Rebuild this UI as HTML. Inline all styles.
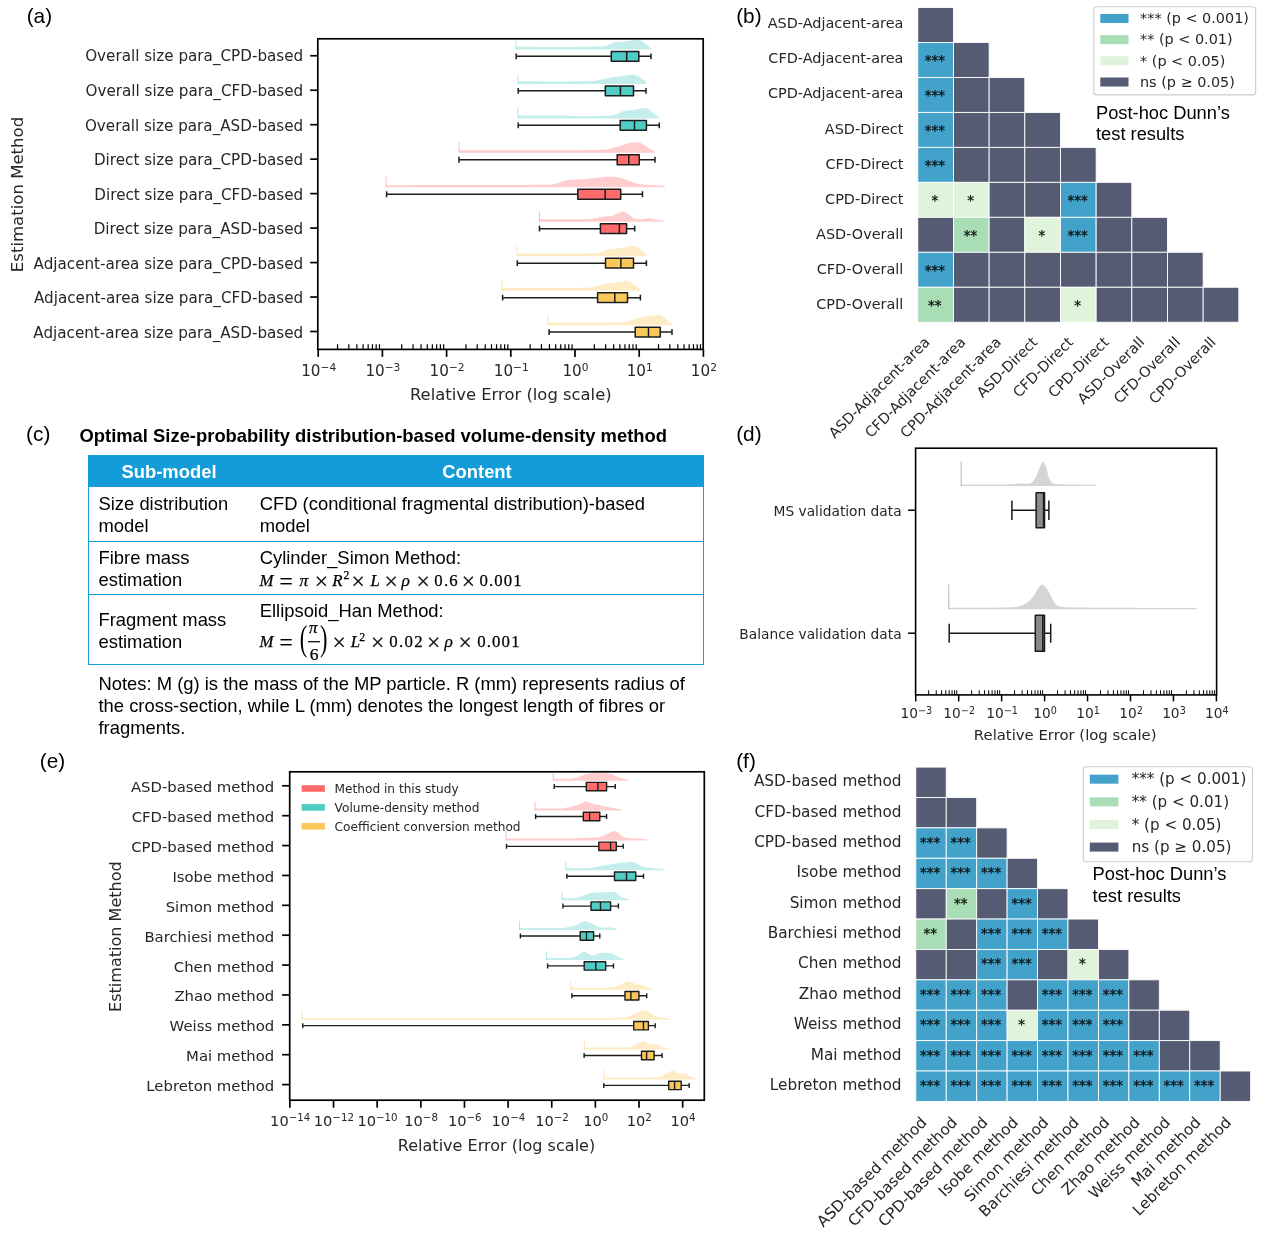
<!DOCTYPE html>
<html lang="en"><head><meta charset="utf-8"><title>Figure</title>
<style>
html,body{margin:0;padding:0;background:#fff;}
#page{position:relative;width:1268px;height:1234px;overflow:hidden;background:#fff;}
#page svg{position:absolute;left:0;top:0;}
.c{position:absolute;font-family:'Liberation Sans','DejaVu Sans',sans-serif;color:#000;font-size:18.4px;line-height:21.9px;white-space:nowrap;}
.m{font-family:'Liberation Serif','DejaVu Serif',serif;font-style:italic;font-size:18.6px;}
.n{font-family:'Liberation Serif','DejaVu Serif',serif;font-style:normal;font-size:18.6px;}
sup.s{font-size:13px;line-height:0;vertical-align:6.5px;font-style:normal;font-family:'Liberation Serif','DejaVu Serif',serif;}
</style></head><body>
<div id="page">
<svg width="1268" height="1234" viewBox="0 0 1268 1234">
<text x="26.7" y="22.8" font-family="'Liberation Sans','DejaVu Sans',sans-serif" font-size="20.8" text-anchor="start" fill="#000">(a)</text>
<text x="736.2" y="22.6" font-family="'Liberation Sans','DejaVu Sans',sans-serif" font-size="20.8" text-anchor="start" fill="#000">(b)</text>
<text x="26.1" y="440.7" font-family="'Liberation Sans','DejaVu Sans',sans-serif" font-size="20.8" text-anchor="start" fill="#000">(c)</text>
<text x="736.2" y="440.6" font-family="'Liberation Sans','DejaVu Sans',sans-serif" font-size="20.8" text-anchor="start" fill="#000">(d)</text>
<text x="39.8" y="768.4" font-family="'Liberation Sans','DejaVu Sans',sans-serif" font-size="20.8" text-anchor="start" fill="#000">(e)</text>
<text x="736.2" y="768.2" font-family="'Liberation Sans','DejaVu Sans',sans-serif" font-size="20.8" text-anchor="start" fill="#000">(f)</text>
<path d="M516,49.45 L516,46.65 L517,46.67 L518,46.68 L519,46.7 L520,46.71 L521,46.73 L522,46.74 L523,46.75 L524,46.77 L525,46.78 L526,46.79 L527,46.8 L528,46.81 L529,46.82 L530,46.83 L531,46.84 L532,46.85 L533,46.86 L534,46.87 L535,46.87 L536,46.88 L537,46.89 L538,46.89 L539,46.9 L540,46.9 L541,46.91 L542,46.91 L543,46.92 L544,46.92 L545,46.93 L546,46.93 L547,46.93 L548,46.94 L549,46.94 L550,46.94 L551,46.94 L552,46.94 L553,46.95 L554,46.95 L555,46.95 L556,46.95 L557,46.95 L558,46.95 L559,46.95 L560,46.95 L561,46.95 L562,46.95 L563,46.95 L564,46.95 L565,46.94 L566,46.94 L567,46.94 L568,46.93 L569,46.93 L570,46.92 L571,46.92 L572,46.91 L573,46.9 L574,46.89 L575,46.89 L576,46.88 L577,46.87 L578,46.86 L579,46.84 L580,46.83 L581,46.82 L582,46.81 L583,46.79 L584,46.78 L585,46.76 L586,46.75 L587,46.73 L588,46.71 L589,46.7 L590,46.68 L591,46.66 L592,46.64 L593,46.62 L594,46.6 L595,46.57 L596,46.55 L597,46.53 L598,46.5 L599,46.48 L600,46.45 L601,46.41 L602,46.36 L603,46.28 L604,46.19 L605,46.08 L606,45.95 L607,45.71 L608,45.31 L609,44.8 L610,44.23 L611,43.66 L612,43.14 L613,42.72 L614,42.45 L615,42.29 L616,42.16 L617,42.04 L618,41.93 L619,41.84 L620,41.76 L621,41.68 L622,41.6 L623,41.52 L624,41.44 L625,41.35 L626,41.25 L627,41.13 L628,40.99 L629,40.84 L630,40.68 L631,40.53 L632,40.38 L633,40.24 L634,40.12 L635,40.03 L636,39.97 L637,39.95 L638,40.04 L639,40.28 L640,40.62 L641,41.03 L642,41.45 L643,41.96 L644,42.61 L645,43.36 L646,44.15 L647,44.95 L648,45.76 L649,46.61 L650,47.51 L651,48.45 L651,49.45 Z" fill="#4ECDC4" fill-opacity="0.34" stroke="none"/>
<line x1="516" y1="49.45" x2="516" y2="39.95" stroke="#4ECDC4" stroke-opacity="0.45" stroke-width="1.0"/>
<path d="M516.2,56.35H611.3M638.8,56.35H651M516.2,53.45V59.25M651,53.45V59.25" stroke="#1c1c1c" stroke-width="1.5" fill="none"/>
<rect x="611.3" y="51.45" width="27.5" height="9.8" fill="#4ECDC4" stroke="#1c1c1c" stroke-width="1.5" stroke-linejoin="round"/>
<line x1="626.7" y1="51.45" x2="626.7" y2="61.25" stroke="#1c1c1c" stroke-width="1.5"/>
<line x1="310.2" y1="55.75" x2="317.8" y2="55.75" stroke="#000" stroke-width="1.7"/>
<text x="303.2" y="61.45" font-family="'DejaVu Sans','Liberation Sans',sans-serif" font-size="15.18" text-anchor="end" fill="#262626">Overall size para_CPD-based</text>
<path d="M518,83.92 L518,81.12 L519,81.14 L520,81.16 L521,81.17 L522,81.19 L523,81.21 L524,81.22 L525,81.24 L526,81.25 L527,81.26 L528,81.27 L529,81.29 L530,81.3 L531,81.31 L532,81.32 L533,81.33 L534,81.34 L535,81.34 L536,81.35 L537,81.36 L538,81.36 L539,81.37 L540,81.38 L541,81.38 L542,81.39 L543,81.39 L544,81.4 L545,81.4 L546,81.4 L547,81.4 L548,81.41 L549,81.41 L550,81.41 L551,81.41 L552,81.42 L553,81.42 L554,81.42 L555,81.42 L556,81.42 L557,81.42 L558,81.42 L559,81.42 L560,81.42 L561,81.42 L562,81.42 L563,81.42 L564,81.41 L565,81.41 L566,81.41 L567,81.4 L568,81.4 L569,81.39 L570,81.39 L571,81.38 L572,81.37 L573,81.36 L574,81.35 L575,81.34 L576,81.33 L577,81.31 L578,81.3 L579,81.28 L580,81.27 L581,81.25 L582,81.23 L583,81.21 L584,81.19 L585,81.17 L586,81.15 L587,81.12 L588,81.1 L589,81.07 L590,81.04 L591,81.01 L592,80.98 L593,80.95 L594,80.92 L595,80.85 L596,80.72 L597,80.54 L598,80.34 L599,80.13 L600,79.92 L601,79.7 L602,79.44 L603,79.17 L604,78.89 L605,78.64 L606,78.42 L607,78.23 L608,78.05 L609,77.88 L610,77.72 L611,77.56 L612,77.41 L613,77.26 L614,77.12 L615,76.98 L616,76.84 L617,76.7 L618,76.56 L619,76.42 L620,76.28 L621,76.13 L622,75.98 L623,75.84 L624,75.7 L625,75.56 L626,75.42 L627,75.29 L628,75.16 L629,75.04 L630,74.92 L631,74.79 L632,74.67 L633,74.62 L634,74.69 L635,74.89 L636,75.18 L637,75.53 L638,75.92 L639,76.48 L640,77.28 L641,78.14 L642,78.92 L643,79.59 L644,80.23 L645,80.84 L646,81.42 L646,83.92 Z" fill="#4ECDC4" fill-opacity="0.34" stroke="none"/>
<line x1="518" y1="83.92" x2="518" y2="74.62" stroke="#4ECDC4" stroke-opacity="0.45" stroke-width="1.0"/>
<path d="M518.2,90.82H605.3M633.5,90.82H646M518.2,87.92V93.72M646,87.92V93.72" stroke="#1c1c1c" stroke-width="1.5" fill="none"/>
<rect x="605.3" y="85.92" width="28.2" height="9.8" fill="#4ECDC4" stroke="#1c1c1c" stroke-width="1.5" stroke-linejoin="round"/>
<line x1="620.4" y1="85.92" x2="620.4" y2="95.72" stroke="#1c1c1c" stroke-width="1.5"/>
<line x1="310.2" y1="90.22" x2="317.8" y2="90.22" stroke="#000" stroke-width="1.7"/>
<text x="303.2" y="95.98" font-family="'DejaVu Sans','Liberation Sans',sans-serif" font-size="15.18" text-anchor="end" fill="#262626">Overall size para_CFD-based</text>
<path d="M518,118.39 L518,115.59 L519,115.58 L520,115.56 L521,115.55 L522,115.54 L523,115.53 L524,115.52 L525,115.51 L526,115.5 L527,115.49 L528,115.48 L529,115.47 L530,115.46 L531,115.46 L532,115.45 L533,115.44 L534,115.44 L535,115.43 L536,115.43 L537,115.42 L538,115.42 L539,115.41 L540,115.41 L541,115.41 L542,115.41 L543,115.4 L544,115.4 L545,115.4 L546,115.4 L547,115.4 L548,115.39 L549,115.39 L550,115.39 L551,115.39 L552,115.39 L553,115.39 L554,115.39 L555,115.39 L556,115.39 L557,115.39 L558,115.39 L559,115.39 L560,115.39 L561,115.4 L562,115.41 L563,115.44 L564,115.47 L565,115.51 L566,115.56 L567,115.62 L568,115.67 L569,115.73 L570,115.79 L571,115.85 L572,115.91 L573,115.96 L574,116.02 L575,116.06 L576,116.11 L577,116.14 L578,116.17 L579,116.18 L580,116.19 L581,116.19 L582,116.19 L583,116.18 L584,116.18 L585,116.18 L586,116.17 L587,116.16 L588,116.15 L589,116.14 L590,116.13 L591,116.11 L592,116.1 L593,116.08 L594,116.06 L595,116.04 L596,116.02 L597,116 L598,115.97 L599,115.94 L600,115.91 L601,115.88 L602,115.85 L603,115.81 L604,115.78 L605,115.74 L606,115.69 L607,115.65 L608,115.6 L609,115.55 L610,115.5 L611,115.45 L612,115.39 L613,115.25 L614,114.98 L615,114.62 L616,114.21 L617,113.79 L618,113.39 L619,112.97 L620,112.49 L621,112 L622,111.54 L623,111.15 L624,110.89 L625,110.72 L626,110.58 L627,110.45 L628,110.34 L629,110.25 L630,110.16 L631,110.08 L632,110 L633,109.91 L634,109.82 L635,109.71 L636,109.59 L637,109.43 L638,109.24 L639,109.03 L640,108.8 L641,108.57 L642,108.36 L643,108.17 L644,108.02 L645,107.93 L646,107.89 L647,108.15 L648,108.79 L649,109.61 L650,110.39 L651,111.13 L652,111.93 L653,112.76 L654,113.59 L655,114.39 L656,115.16 L657,115.91 L658,116.66 L659,117.39 L659,118.39 Z" fill="#4ECDC4" fill-opacity="0.34" stroke="none"/>
<line x1="518" y1="118.39" x2="518" y2="107.89" stroke="#4ECDC4" stroke-opacity="0.45" stroke-width="1.0"/>
<path d="M518.2,125.29H620.2M646.4,125.29H659.3M518.2,122.39V128.19M659.3,122.39V128.19" stroke="#1c1c1c" stroke-width="1.5" fill="none"/>
<rect x="620.2" y="120.39" width="26.2" height="9.8" fill="#4ECDC4" stroke="#1c1c1c" stroke-width="1.5" stroke-linejoin="round"/>
<line x1="634.5" y1="120.39" x2="634.5" y2="130.19" stroke="#1c1c1c" stroke-width="1.5"/>
<line x1="310.2" y1="124.69" x2="317.8" y2="124.69" stroke="#000" stroke-width="1.7"/>
<text x="303.2" y="130.51" font-family="'DejaVu Sans','Liberation Sans',sans-serif" font-size="15.18" text-anchor="end" fill="#262626">Overall size para_ASD-based</text>
<path d="M459,152.86 L459,150.36 L460,150.36 L461,150.36 L462,150.36 L463,150.36 L464,150.36 L465,150.36 L466,150.36 L467,150.36 L468,150.36 L469,150.36 L470,150.36 L471,150.36 L472,150.36 L473,150.36 L474,150.36 L475,150.36 L476,150.36 L477,150.36 L478,150.36 L479,150.36 L480,150.36 L481,150.36 L482,150.36 L483,150.36 L484,150.36 L485,150.36 L486,150.36 L487,150.36 L488,150.36 L489,150.36 L490,150.36 L491,150.36 L492,150.36 L493,150.36 L494,150.36 L495,150.36 L496,150.36 L497,150.36 L498,150.36 L499,150.36 L500,150.36 L501,150.36 L502,150.36 L503,150.36 L504,150.36 L505,150.36 L506,150.36 L507,150.36 L508,150.36 L509,150.36 L510,150.36 L511,150.36 L512,150.36 L513,150.36 L514,150.36 L515,150.36 L516,150.36 L517,150.36 L518,150.36 L519,150.36 L520,150.36 L521,150.36 L522,150.36 L523,150.36 L524,150.36 L525,150.36 L526,150.36 L527,150.36 L528,150.36 L529,150.36 L530,150.36 L531,150.36 L532,150.36 L533,150.36 L534,150.36 L535,150.36 L536,150.36 L537,150.36 L538,150.36 L539,150.36 L540,150.36 L541,150.36 L542,150.36 L543,150.36 L544,150.36 L545,150.36 L546,150.36 L547,150.36 L548,150.36 L549,150.36 L550,150.36 L551,150.36 L552,150.36 L553,150.36 L554,150.36 L555,150.36 L556,150.36 L557,150.36 L558,150.36 L559,150.36 L560,150.36 L561,150.36 L562,150.36 L563,150.36 L564,150.36 L565,150.35 L566,150.35 L567,150.35 L568,150.34 L569,150.34 L570,150.33 L571,150.32 L572,150.32 L573,150.31 L574,150.3 L575,150.29 L576,150.28 L577,150.27 L578,150.26 L579,150.25 L580,150.24 L581,150.22 L582,150.21 L583,150.2 L584,150.18 L585,150.17 L586,150.15 L587,150.13 L588,150.12 L589,150.1 L590,150.08 L591,150.06 L592,150.04 L593,150.02 L594,150 L595,149.98 L596,149.96 L597,149.93 L598,149.91 L599,149.89 L600,149.86 L601,149.83 L602,149.78 L603,149.72 L604,149.65 L605,149.56 L606,149.47 L607,149.36 L608,149.22 L609,149.02 L610,148.79 L611,148.52 L612,148.23 L613,147.93 L614,147.64 L615,147.36 L616,147.09 L617,146.81 L618,146.53 L619,146.24 L620,145.95 L621,145.66 L622,145.36 L623,145.04 L624,144.7 L625,144.34 L626,143.99 L627,143.65 L628,143.34 L629,143.07 L630,142.86 L631,142.68 L632,142.51 L633,142.35 L634,142.24 L635,142.17 L636,142.17 L637,142.26 L638,142.42 L639,142.63 L640,142.86 L641,143.2 L642,143.72 L643,144.35 L644,145.03 L645,145.72 L646,146.36 L647,146.96 L648,147.58 L649,148.2 L650,148.79 L651,149.36 L652,149.89 L653,150.4 L654,150.89 L655,151.36 L655,152.86 Z" fill="#FF6B6B" fill-opacity="0.34" stroke="none"/>
<line x1="459" y1="152.86" x2="459" y2="142.16" stroke="#FF6B6B" stroke-opacity="0.45" stroke-width="1.0"/>
<path d="M459,159.76H617.2M639.2,159.76H655M459,156.86V162.66M655,156.86V162.66" stroke="#1c1c1c" stroke-width="1.5" fill="none"/>
<rect x="617.2" y="154.86" width="22" height="9.8" fill="#FF6B6B" stroke="#1c1c1c" stroke-width="1.5" stroke-linejoin="round"/>
<line x1="628.8" y1="154.86" x2="628.8" y2="164.66" stroke="#1c1c1c" stroke-width="1.5"/>
<line x1="310.2" y1="159.16" x2="317.8" y2="159.16" stroke="#000" stroke-width="1.7"/>
<text x="303.2" y="165.04" font-family="'DejaVu Sans','Liberation Sans',sans-serif" font-size="15.18" text-anchor="end" fill="#262626">Direct size para_CPD-based</text>
<path d="M386,187.33 L386,185.13 L387,185.13 L388,185.13 L389,185.13 L390,185.13 L391,185.13 L392,185.13 L393,185.13 L394,185.13 L395,185.13 L396,185.13 L397,185.13 L398,185.13 L399,185.13 L400,185.13 L401,185.13 L402,185.13 L403,185.13 L404,185.13 L405,185.13 L406,185.13 L407,185.13 L408,185.13 L409,185.13 L410,185.13 L411,185.13 L412,185.13 L413,185.12 L414,185.12 L415,185.12 L416,185.12 L417,185.12 L418,185.12 L419,185.12 L420,185.12 L421,185.12 L422,185.12 L423,185.12 L424,185.12 L425,185.12 L426,185.12 L427,185.12 L428,185.12 L429,185.12 L430,185.12 L431,185.11 L432,185.11 L433,185.11 L434,185.11 L435,185.11 L436,185.11 L437,185.11 L438,185.11 L439,185.11 L440,185.11 L441,185.11 L442,185.1 L443,185.1 L444,185.1 L445,185.1 L446,185.1 L447,185.1 L448,185.1 L449,185.1 L450,185.09 L451,185.09 L452,185.09 L453,185.09 L454,185.09 L455,185.09 L456,185.09 L457,185.09 L458,185.08 L459,185.08 L460,185.08 L461,185.08 L462,185.08 L463,185.08 L464,185.07 L465,185.07 L466,185.07 L467,185.07 L468,185.07 L469,185.07 L470,185.06 L471,185.06 L472,185.06 L473,185.06 L474,185.06 L475,185.05 L476,185.05 L477,185.05 L478,185.05 L479,185.04 L480,185.04 L481,185.04 L482,185.04 L483,185.04 L484,185.03 L485,185.03 L486,185.03 L487,185.03 L488,185.02 L489,185.02 L490,185.02 L491,185.02 L492,185.01 L493,185.01 L494,185.01 L495,185 L496,185 L497,185 L498,185 L499,184.99 L500,184.99 L501,184.99 L502,184.98 L503,184.98 L504,184.98 L505,184.97 L506,184.97 L507,184.97 L508,184.96 L509,184.96 L510,184.96 L511,184.95 L512,184.95 L513,184.95 L514,184.94 L515,184.94 L516,184.93 L517,184.93 L518,184.93 L519,184.92 L520,184.92 L521,184.92 L522,184.91 L523,184.91 L524,184.9 L525,184.9 L526,184.89 L527,184.89 L528,184.89 L529,184.88 L530,184.88 L531,184.87 L532,184.87 L533,184.86 L534,184.86 L535,184.85 L536,184.85 L537,184.84 L538,184.84 L539,184.83 L540,184.83 L541,184.82 L542,184.81 L543,184.79 L544,184.77 L545,184.74 L546,184.71 L547,184.67 L548,184.63 L549,184.58 L550,184.53 L551,184.47 L552,184.4 L553,184.33 L554,184.2 L555,183.98 L556,183.68 L557,183.34 L558,182.99 L559,182.64 L560,182.33 L561,182.02 L562,181.69 L563,181.34 L564,181 L565,180.68 L566,180.4 L567,180.18 L568,180.03 L569,179.93 L570,179.85 L571,179.78 L572,179.71 L573,179.66 L574,179.61 L575,179.56 L576,179.52 L577,179.48 L578,179.44 L579,179.4 L580,179.36 L581,179.31 L582,179.26 L583,179.2 L584,179.13 L585,179.05 L586,178.97 L587,178.88 L588,178.79 L589,178.68 L590,178.58 L591,178.47 L592,178.36 L593,178.25 L594,178.14 L595,178.04 L596,177.93 L597,177.82 L598,177.72 L599,177.62 L600,177.53 L601,177.44 L602,177.33 L603,177.22 L604,177.11 L605,177.01 L606,176.91 L607,176.82 L608,176.74 L609,176.68 L610,176.64 L611,176.63 L612,176.65 L613,176.72 L614,176.82 L615,176.94 L616,177.1 L617,177.27 L618,177.45 L619,177.64 L620,177.83 L621,178.05 L622,178.31 L623,178.61 L624,178.94 L625,179.29 L626,179.64 L627,179.99 L628,180.33 L629,180.68 L630,181.07 L631,181.47 L632,181.89 L633,182.3 L634,182.69 L635,183.05 L636,183.37 L637,183.64 L638,183.83 L639,183.98 L640,184.11 L641,184.23 L642,184.33 L643,184.43 L644,184.52 L645,184.6 L646,184.68 L647,184.75 L648,184.83 L649,184.91 L650,184.98 L651,185.05 L652,185.12 L653,185.19 L654,185.26 L655,185.33 L656,185.39 L657,185.45 L658,185.51 L659,185.57 L660,185.62 L661,185.67 L662,185.71 L663,185.76 L664,185.8 L665,185.83 L665,187.33 Z" fill="#FF6B6B" fill-opacity="0.34" stroke="none"/>
<line x1="386" y1="187.33" x2="386" y2="176.63" stroke="#FF6B6B" stroke-opacity="0.45" stroke-width="1.0"/>
<path d="M386.6,194.23H577.8M620.7,194.23H642.5M386.6,191.33V197.13M642.5,191.33V197.13" stroke="#1c1c1c" stroke-width="1.5" fill="none"/>
<rect x="577.8" y="189.33" width="42.9" height="9.8" fill="#FF6B6B" stroke="#1c1c1c" stroke-width="1.5" stroke-linejoin="round"/>
<line x1="605.2" y1="189.33" x2="605.2" y2="199.13" stroke="#1c1c1c" stroke-width="1.5"/>
<line x1="310.2" y1="193.63" x2="317.8" y2="193.63" stroke="#000" stroke-width="1.7"/>
<text x="303.2" y="199.57" font-family="'DejaVu Sans','Liberation Sans',sans-serif" font-size="15.18" text-anchor="end" fill="#262626">Direct size para_CFD-based</text>
<path d="M539.5,221.8 L539.5,219.3 L540.5,219.3 L541.5,219.3 L542.5,219.3 L543.5,219.3 L544.5,219.3 L545.5,219.3 L546.5,219.3 L547.5,219.3 L548.5,219.3 L549.5,219.3 L550.5,219.3 L551.5,219.3 L552.5,219.3 L553.5,219.3 L554.5,219.3 L555.5,219.3 L556.5,219.3 L557.5,219.3 L558.5,219.3 L559.5,219.3 L560.5,219.3 L561.5,219.3 L562.5,219.3 L563.5,219.3 L564.5,219.3 L565.5,219.3 L566.5,219.3 L567.5,219.3 L568.5,219.3 L569.5,219.3 L570.5,219.3 L571.5,219.3 L572.5,219.3 L573.5,219.3 L574.5,219.3 L575.5,219.3 L576.5,219.3 L577.5,219.3 L578.5,219.3 L579.5,219.3 L580.5,219.3 L581.5,219.3 L582.5,219.3 L583.5,219.3 L584.5,219.3 L585.5,219.3 L586.5,219.27 L587.5,219.21 L588.5,219.13 L589.5,219.03 L590.5,218.91 L591.5,218.79 L592.5,218.65 L593.5,218.51 L594.5,218.37 L595.5,218.22 L596.5,218.03 L597.5,217.8 L598.5,217.55 L599.5,217.3 L600.5,217.05 L601.5,216.84 L602.5,216.66 L603.5,216.55 L604.5,216.46 L605.5,216.4 L606.5,216.34 L607.5,216.29 L608.5,216.23 L609.5,216.16 L610.5,216.06 L611.5,215.92 L612.5,215.65 L613.5,215.29 L614.5,214.87 L615.5,214.42 L616.5,214 L617.5,213.6 L618.5,213.12 L619.5,212.62 L620.5,212.14 L621.5,211.75 L622.5,211.53 L623.5,211.54 L624.5,211.82 L625.5,212.3 L626.5,212.9 L627.5,213.51 L628.5,214.11 L629.5,214.87 L630.5,215.75 L631.5,216.67 L632.5,217.53 L633.5,218.23 L634.5,218.69 L635.5,218.86 L636.5,218.98 L637.5,219.08 L638.5,219.16 L639.5,219.23 L640.5,219.27 L641.5,219.3 L642.5,219.29 L643.5,219.18 L644.5,219.01 L645.5,218.8 L646.5,218.59 L647.5,218.42 L648.5,218.31 L649.5,218.31 L650.5,218.4 L651.5,218.56 L652.5,218.76 L653.5,218.99 L654.5,219.21 L655.5,219.41 L656.5,219.58 L657.5,219.73 L658.5,219.88 L659.5,220.03 L660.5,220.18 L661.5,220.32 L662.5,220.45 L663.5,220.59 L663.6,220.6 L663.6,221.8 Z" fill="#FF6B6B" fill-opacity="0.34" stroke="none"/>
<line x1="539.5" y1="221.8" x2="539.5" y2="211.5" stroke="#FF6B6B" stroke-opacity="0.45" stroke-width="1.0"/>
<path d="M539.5,228.7H600.4M626.6,228.7H634.7M539.5,225.8V231.6M634.7,225.8V231.6" stroke="#1c1c1c" stroke-width="1.5" fill="none"/>
<rect x="600.4" y="223.8" width="26.2" height="9.8" fill="#FF6B6B" stroke="#1c1c1c" stroke-width="1.5" stroke-linejoin="round"/>
<line x1="619.4" y1="223.8" x2="619.4" y2="233.6" stroke="#1c1c1c" stroke-width="1.5"/>
<line x1="310.2" y1="228.1" x2="317.8" y2="228.1" stroke="#000" stroke-width="1.7"/>
<text x="303.2" y="234.1" font-family="'DejaVu Sans','Liberation Sans',sans-serif" font-size="15.18" text-anchor="end" fill="#262626">Direct size para_ASD-based</text>
<path d="M517,256.27 L517,253.47 L518,253.47 L519,253.47 L520,253.47 L521,253.47 L522,253.47 L523,253.47 L524,253.47 L525,253.47 L526,253.47 L527,253.47 L528,253.47 L529,253.47 L530,253.47 L531,253.47 L532,253.47 L533,253.47 L534,253.47 L535,253.47 L536,253.47 L537,253.47 L538,253.47 L539,253.47 L540,253.47 L541,253.47 L542,253.47 L543,253.47 L544,253.47 L545,253.47 L546,253.47 L547,253.47 L548,253.47 L549,253.47 L550,253.47 L551,253.47 L552,253.47 L553,253.47 L554,253.47 L555,253.47 L556,253.47 L557,253.47 L558,253.47 L559,253.47 L560,253.47 L561,253.47 L562,253.47 L563,253.47 L564,253.47 L565,253.47 L566,253.47 L567,253.47 L568,253.46 L569,253.46 L570,253.46 L571,253.46 L572,253.46 L573,253.45 L574,253.45 L575,253.45 L576,253.44 L577,253.44 L578,253.43 L579,253.43 L580,253.42 L581,253.42 L582,253.41 L583,253.4 L584,253.4 L585,253.39 L586,253.38 L587,253.37 L588,253.36 L589,253.35 L590,253.34 L591,253.33 L592,253.32 L593,253.31 L594,253.3 L595,253.28 L596,253.27 L597,253.19 L598,253.01 L599,252.76 L600,252.44 L601,252.11 L602,251.77 L603,251.35 L604,250.82 L605,250.31 L606,249.97 L607,249.76 L608,249.58 L609,249.42 L610,249.28 L611,249.16 L612,249.04 L613,248.94 L614,248.85 L615,248.75 L616,248.66 L617,248.56 L618,248.46 L619,248.34 L620,248.21 L621,248.07 L622,247.91 L623,247.74 L624,247.56 L625,247.38 L626,247.18 L627,246.98 L628,246.77 L629,246.51 L630,246.2 L631,245.89 L632,245.66 L633,245.57 L634,245.68 L635,245.96 L636,246.34 L637,246.77 L638,247.33 L639,248.08 L640,248.92 L641,249.77 L642,250.6 L643,251.47 L644,252.37 L645,253.3 L646,254.27 L646,256.27 Z" fill="#FAC858" fill-opacity="0.34" stroke="none"/>
<line x1="517" y1="256.27" x2="517" y2="245.57" stroke="#FAC858" stroke-opacity="0.45" stroke-width="1.0"/>
<path d="M517.3,263.17H605.5M633.5,263.17H646.4M517.3,260.27V266.07M646.4,260.27V266.07" stroke="#1c1c1c" stroke-width="1.5" fill="none"/>
<rect x="605.5" y="258.27" width="28" height="9.8" fill="#FAC858" stroke="#1c1c1c" stroke-width="1.5" stroke-linejoin="round"/>
<line x1="620.9" y1="258.27" x2="620.9" y2="268.07" stroke="#1c1c1c" stroke-width="1.5"/>
<line x1="310.2" y1="262.57" x2="317.8" y2="262.57" stroke="#000" stroke-width="1.7"/>
<text x="303.2" y="268.63" font-family="'DejaVu Sans','Liberation Sans',sans-serif" font-size="15.18" text-anchor="end" fill="#262626">Adjacent-area size para_CPD-based</text>
<path d="M502,290.74 L502,287.94 L503,287.94 L504,287.94 L505,287.94 L506,287.94 L507,287.94 L508,287.94 L509,287.94 L510,287.94 L511,287.94 L512,287.94 L513,287.94 L514,287.94 L515,287.94 L516,287.94 L517,287.94 L518,287.94 L519,287.94 L520,287.94 L521,287.94 L522,287.94 L523,287.94 L524,287.94 L525,287.94 L526,287.94 L527,287.94 L528,287.94 L529,287.94 L530,287.94 L531,287.94 L532,287.94 L533,287.94 L534,287.94 L535,287.94 L536,287.94 L537,287.94 L538,287.94 L539,287.94 L540,287.94 L541,287.94 L542,287.94 L543,287.94 L544,287.94 L545,287.94 L546,287.94 L547,287.94 L548,287.94 L549,287.94 L550,287.94 L551,287.94 L552,287.94 L553,287.94 L554,287.94 L555,287.94 L556,287.94 L557,287.94 L558,287.94 L559,287.94 L560,287.94 L561,287.94 L562,287.94 L563,287.94 L564,287.94 L565,287.94 L566,287.93 L567,287.93 L568,287.93 L569,287.92 L570,287.92 L571,287.92 L572,287.91 L573,287.9 L574,287.9 L575,287.89 L576,287.88 L577,287.88 L578,287.87 L579,287.86 L580,287.85 L581,287.84 L582,287.83 L583,287.81 L584,287.8 L585,287.79 L586,287.77 L587,287.76 L588,287.74 L589,287.69 L590,287.57 L591,287.4 L592,287.19 L593,286.95 L594,286.71 L595,286.47 L596,286.24 L597,286.01 L598,285.76 L599,285.5 L600,285.24 L601,284.99 L602,284.75 L603,284.54 L604,284.33 L605,284.13 L606,283.93 L607,283.73 L608,283.54 L609,283.36 L610,283.18 L611,283.01 L612,282.84 L613,282.68 L614,282.53 L615,282.38 L616,282.24 L617,282.11 L618,282 L619,281.9 L620,281.79 L621,281.69 L622,281.57 L623,281.44 L624,281.25 L625,281.02 L626,280.82 L627,280.74 L628,280.88 L629,281.24 L630,281.72 L631,282.24 L632,282.85 L633,283.63 L634,284.46 L635,285.24 L636,285.96 L637,286.67 L638,287.37 L639,288.06 L640,288.74 L640,290.74 Z" fill="#FAC858" fill-opacity="0.34" stroke="none"/>
<line x1="502" y1="290.74" x2="502" y2="280.74" stroke="#FAC858" stroke-opacity="0.45" stroke-width="1.0"/>
<path d="M502.6,297.64H597.6M627.5,297.64H640.4M502.6,294.74V300.54M640.4,294.74V300.54" stroke="#1c1c1c" stroke-width="1.5" fill="none"/>
<rect x="597.6" y="292.74" width="29.9" height="9.8" fill="#FAC858" stroke="#1c1c1c" stroke-width="1.5" stroke-linejoin="round"/>
<line x1="614.8" y1="292.74" x2="614.8" y2="302.54" stroke="#1c1c1c" stroke-width="1.5"/>
<line x1="310.2" y1="297.04" x2="317.8" y2="297.04" stroke="#000" stroke-width="1.7"/>
<text x="303.2" y="303.16" font-family="'DejaVu Sans','Liberation Sans',sans-serif" font-size="15.18" text-anchor="end" fill="#262626">Adjacent-area size para_CFD-based</text>
<path d="M548,325.21 L548,322.41 L549,322.41 L550,322.41 L551,322.41 L552,322.41 L553,322.41 L554,322.41 L555,322.41 L556,322.41 L557,322.41 L558,322.41 L559,322.41 L560,322.41 L561,322.41 L562,322.41 L563,322.41 L564,322.41 L565,322.41 L566,322.41 L567,322.41 L568,322.41 L569,322.41 L570,322.41 L571,322.41 L572,322.41 L573,322.41 L574,322.41 L575,322.41 L576,322.41 L577,322.41 L578,322.41 L579,322.41 L580,322.41 L581,322.41 L582,322.41 L583,322.41 L584,322.41 L585,322.41 L586,322.41 L587,322.41 L588,322.41 L589,322.41 L590,322.41 L591,322.41 L592,322.41 L593,322.41 L594,322.41 L595,322.41 L596,322.41 L597,322.41 L598,322.41 L599,322.41 L600,322.41 L601,322.41 L602,322.41 L603,322.41 L604,322.41 L605,322.4 L606,322.4 L607,322.4 L608,322.39 L609,322.39 L610,322.38 L611,322.38 L612,322.37 L613,322.36 L614,322.35 L615,322.34 L616,322.33 L617,322.32 L618,322.31 L619,322.29 L620,322.28 L621,322.26 L622,322.25 L623,322.23 L624,322.21 L625,322.13 L626,321.93 L627,321.66 L628,321.35 L629,321.02 L630,320.71 L631,320.39 L632,320.03 L633,319.65 L634,319.27 L635,318.91 L636,318.58 L637,318.31 L638,318.05 L639,317.81 L640,317.57 L641,317.35 L642,317.13 L643,316.93 L644,316.74 L645,316.56 L646,316.4 L647,316.25 L648,316.11 L649,315.99 L650,315.89 L651,315.79 L652,315.71 L653,315.62 L654,315.52 L655,315.41 L656,315.26 L657,315.07 L658,314.91 L659,314.82 L660,314.92 L661,315.37 L662,316.03 L663,316.71 L664,317.49 L665,318.42 L666,319.38 L667,320.21 L668,320.91 L669,321.57 L670,322.18 L671,322.73 L672,323.21 L672,325.21 Z" fill="#FAC858" fill-opacity="0.34" stroke="none"/>
<line x1="548" y1="325.21" x2="548" y2="314.81" stroke="#FAC858" stroke-opacity="0.45" stroke-width="1.0"/>
<path d="M549.1,332.11H635.2M660.2,332.11H672M549.1,329.21V335.01M672,329.21V335.01" stroke="#1c1c1c" stroke-width="1.5" fill="none"/>
<rect x="635.2" y="327.21" width="25" height="9.8" fill="#FAC858" stroke="#1c1c1c" stroke-width="1.5" stroke-linejoin="round"/>
<line x1="648.5" y1="327.21" x2="648.5" y2="337.01" stroke="#1c1c1c" stroke-width="1.5"/>
<line x1="310.2" y1="331.51" x2="317.8" y2="331.51" stroke="#000" stroke-width="1.7"/>
<text x="303.2" y="337.69" font-family="'DejaVu Sans','Liberation Sans',sans-serif" font-size="15.18" text-anchor="end" fill="#262626">Adjacent-area size para_ASD-based</text>
<line x1="318.2" y1="349.4" x2="318.2" y2="356.9" stroke="#000" stroke-width="1.7"/>
<text x="318.7" y="376.2" font-family="'DejaVu Sans','Liberation Sans',sans-serif" font-size="15.18" text-anchor="middle" fill="#262626">10<tspan dy="-5.2" font-size="10.63">−4</tspan></text>
<line x1="337.53" y1="349.4" x2="337.53" y2="344.2" stroke="#000" stroke-width="1.2"/>
<line x1="348.83" y1="349.4" x2="348.83" y2="344.2" stroke="#000" stroke-width="1.2"/>
<line x1="356.85" y1="349.4" x2="356.85" y2="344.2" stroke="#000" stroke-width="1.2"/>
<line x1="363.07" y1="349.4" x2="363.07" y2="344.2" stroke="#000" stroke-width="1.2"/>
<line x1="368.16" y1="349.4" x2="368.16" y2="344.2" stroke="#000" stroke-width="1.2"/>
<line x1="372.46" y1="349.4" x2="372.46" y2="344.2" stroke="#000" stroke-width="1.2"/>
<line x1="376.18" y1="349.4" x2="376.18" y2="344.2" stroke="#000" stroke-width="1.2"/>
<line x1="379.46" y1="349.4" x2="379.46" y2="344.2" stroke="#000" stroke-width="1.2"/>
<line x1="382.4" y1="349.4" x2="382.4" y2="356.9" stroke="#000" stroke-width="1.7"/>
<text x="382.9" y="376.2" font-family="'DejaVu Sans','Liberation Sans',sans-serif" font-size="15.18" text-anchor="middle" fill="#262626">10<tspan dy="-5.2" font-size="10.63">−3</tspan></text>
<line x1="401.73" y1="349.4" x2="401.73" y2="344.2" stroke="#000" stroke-width="1.2"/>
<line x1="413.03" y1="349.4" x2="413.03" y2="344.2" stroke="#000" stroke-width="1.2"/>
<line x1="421.05" y1="349.4" x2="421.05" y2="344.2" stroke="#000" stroke-width="1.2"/>
<line x1="427.27" y1="349.4" x2="427.27" y2="344.2" stroke="#000" stroke-width="1.2"/>
<line x1="432.36" y1="349.4" x2="432.36" y2="344.2" stroke="#000" stroke-width="1.2"/>
<line x1="436.66" y1="349.4" x2="436.66" y2="344.2" stroke="#000" stroke-width="1.2"/>
<line x1="440.38" y1="349.4" x2="440.38" y2="344.2" stroke="#000" stroke-width="1.2"/>
<line x1="443.66" y1="349.4" x2="443.66" y2="344.2" stroke="#000" stroke-width="1.2"/>
<line x1="446.6" y1="349.4" x2="446.6" y2="356.9" stroke="#000" stroke-width="1.7"/>
<text x="447.1" y="376.2" font-family="'DejaVu Sans','Liberation Sans',sans-serif" font-size="15.18" text-anchor="middle" fill="#262626">10<tspan dy="-5.2" font-size="10.63">−2</tspan></text>
<line x1="465.93" y1="349.4" x2="465.93" y2="344.2" stroke="#000" stroke-width="1.2"/>
<line x1="477.23" y1="349.4" x2="477.23" y2="344.2" stroke="#000" stroke-width="1.2"/>
<line x1="485.25" y1="349.4" x2="485.25" y2="344.2" stroke="#000" stroke-width="1.2"/>
<line x1="491.47" y1="349.4" x2="491.47" y2="344.2" stroke="#000" stroke-width="1.2"/>
<line x1="496.56" y1="349.4" x2="496.56" y2="344.2" stroke="#000" stroke-width="1.2"/>
<line x1="500.86" y1="349.4" x2="500.86" y2="344.2" stroke="#000" stroke-width="1.2"/>
<line x1="504.58" y1="349.4" x2="504.58" y2="344.2" stroke="#000" stroke-width="1.2"/>
<line x1="507.86" y1="349.4" x2="507.86" y2="344.2" stroke="#000" stroke-width="1.2"/>
<line x1="510.8" y1="349.4" x2="510.8" y2="356.9" stroke="#000" stroke-width="1.7"/>
<text x="511.3" y="376.2" font-family="'DejaVu Sans','Liberation Sans',sans-serif" font-size="15.18" text-anchor="middle" fill="#262626">10<tspan dy="-5.2" font-size="10.63">−1</tspan></text>
<line x1="530.13" y1="349.4" x2="530.13" y2="344.2" stroke="#000" stroke-width="1.2"/>
<line x1="541.43" y1="349.4" x2="541.43" y2="344.2" stroke="#000" stroke-width="1.2"/>
<line x1="549.45" y1="349.4" x2="549.45" y2="344.2" stroke="#000" stroke-width="1.2"/>
<line x1="555.67" y1="349.4" x2="555.67" y2="344.2" stroke="#000" stroke-width="1.2"/>
<line x1="560.76" y1="349.4" x2="560.76" y2="344.2" stroke="#000" stroke-width="1.2"/>
<line x1="565.06" y1="349.4" x2="565.06" y2="344.2" stroke="#000" stroke-width="1.2"/>
<line x1="568.78" y1="349.4" x2="568.78" y2="344.2" stroke="#000" stroke-width="1.2"/>
<line x1="572.06" y1="349.4" x2="572.06" y2="344.2" stroke="#000" stroke-width="1.2"/>
<line x1="575" y1="349.4" x2="575" y2="356.9" stroke="#000" stroke-width="1.7"/>
<text x="575.5" y="376.2" font-family="'DejaVu Sans','Liberation Sans',sans-serif" font-size="15.18" text-anchor="middle" fill="#262626">10<tspan dy="-5.2" font-size="10.63">0</tspan></text>
<line x1="594.33" y1="349.4" x2="594.33" y2="344.2" stroke="#000" stroke-width="1.2"/>
<line x1="605.63" y1="349.4" x2="605.63" y2="344.2" stroke="#000" stroke-width="1.2"/>
<line x1="613.65" y1="349.4" x2="613.65" y2="344.2" stroke="#000" stroke-width="1.2"/>
<line x1="619.87" y1="349.4" x2="619.87" y2="344.2" stroke="#000" stroke-width="1.2"/>
<line x1="624.96" y1="349.4" x2="624.96" y2="344.2" stroke="#000" stroke-width="1.2"/>
<line x1="629.26" y1="349.4" x2="629.26" y2="344.2" stroke="#000" stroke-width="1.2"/>
<line x1="632.98" y1="349.4" x2="632.98" y2="344.2" stroke="#000" stroke-width="1.2"/>
<line x1="636.26" y1="349.4" x2="636.26" y2="344.2" stroke="#000" stroke-width="1.2"/>
<line x1="639.2" y1="349.4" x2="639.2" y2="356.9" stroke="#000" stroke-width="1.7"/>
<text x="639.7" y="376.2" font-family="'DejaVu Sans','Liberation Sans',sans-serif" font-size="15.18" text-anchor="middle" fill="#262626">10<tspan dy="-5.2" font-size="10.63">1</tspan></text>
<line x1="658.53" y1="349.4" x2="658.53" y2="344.2" stroke="#000" stroke-width="1.2"/>
<line x1="669.83" y1="349.4" x2="669.83" y2="344.2" stroke="#000" stroke-width="1.2"/>
<line x1="677.85" y1="349.4" x2="677.85" y2="344.2" stroke="#000" stroke-width="1.2"/>
<line x1="684.07" y1="349.4" x2="684.07" y2="344.2" stroke="#000" stroke-width="1.2"/>
<line x1="689.16" y1="349.4" x2="689.16" y2="344.2" stroke="#000" stroke-width="1.2"/>
<line x1="693.46" y1="349.4" x2="693.46" y2="344.2" stroke="#000" stroke-width="1.2"/>
<line x1="697.18" y1="349.4" x2="697.18" y2="344.2" stroke="#000" stroke-width="1.2"/>
<line x1="700.46" y1="349.4" x2="700.46" y2="344.2" stroke="#000" stroke-width="1.2"/>
<line x1="703.4" y1="349.4" x2="703.4" y2="356.9" stroke="#000" stroke-width="1.7"/>
<text x="703.9" y="376.2" font-family="'DejaVu Sans','Liberation Sans',sans-serif" font-size="15.18" text-anchor="middle" fill="#262626">10<tspan dy="-5.2" font-size="10.63">2</tspan></text>
<rect x="317.8" y="38.8" width="385.4" height="310.6" fill="none" stroke="#000" stroke-width="1.7"/>
<text x="510.8" y="400.4" font-family="'DejaVu Sans','Liberation Sans',sans-serif" font-size="16.4" text-anchor="middle" fill="#262626">Relative Error (log scale)</text>
<text transform="translate(22.6,194.5) rotate(-90)" font-family="'DejaVu Sans','Liberation Sans',sans-serif" font-size="16.55" text-anchor="middle" fill="#262626">Estimation Method</text>
<rect x="917.8" y="7.5" width="35.67" height="34.97" fill="#555B72" stroke="#fff" stroke-width="0.9"/>
<rect x="917.8" y="42.47" width="35.67" height="34.97" fill="#43A2CA" stroke="#fff" stroke-width="0.9"/>
<rect x="953.47" y="42.47" width="35.67" height="34.97" fill="#555B72" stroke="#fff" stroke-width="0.9"/>
<rect x="917.8" y="77.44" width="35.67" height="34.97" fill="#43A2CA" stroke="#fff" stroke-width="0.9"/>
<rect x="953.47" y="77.44" width="35.67" height="34.97" fill="#555B72" stroke="#fff" stroke-width="0.9"/>
<rect x="989.14" y="77.44" width="35.67" height="34.97" fill="#555B72" stroke="#fff" stroke-width="0.9"/>
<rect x="917.8" y="112.41" width="35.67" height="34.97" fill="#43A2CA" stroke="#fff" stroke-width="0.9"/>
<rect x="953.47" y="112.41" width="35.67" height="34.97" fill="#555B72" stroke="#fff" stroke-width="0.9"/>
<rect x="989.14" y="112.41" width="35.67" height="34.97" fill="#555B72" stroke="#fff" stroke-width="0.9"/>
<rect x="1024.81" y="112.41" width="35.67" height="34.97" fill="#555B72" stroke="#fff" stroke-width="0.9"/>
<rect x="917.8" y="147.38" width="35.67" height="34.97" fill="#43A2CA" stroke="#fff" stroke-width="0.9"/>
<rect x="953.47" y="147.38" width="35.67" height="34.97" fill="#555B72" stroke="#fff" stroke-width="0.9"/>
<rect x="989.14" y="147.38" width="35.67" height="34.97" fill="#555B72" stroke="#fff" stroke-width="0.9"/>
<rect x="1024.81" y="147.38" width="35.67" height="34.97" fill="#555B72" stroke="#fff" stroke-width="0.9"/>
<rect x="1060.48" y="147.38" width="35.67" height="34.97" fill="#555B72" stroke="#fff" stroke-width="0.9"/>
<rect x="917.8" y="182.35" width="35.67" height="34.97" fill="#E0F3DB" stroke="#fff" stroke-width="0.9"/>
<rect x="953.47" y="182.35" width="35.67" height="34.97" fill="#E0F3DB" stroke="#fff" stroke-width="0.9"/>
<rect x="989.14" y="182.35" width="35.67" height="34.97" fill="#555B72" stroke="#fff" stroke-width="0.9"/>
<rect x="1024.81" y="182.35" width="35.67" height="34.97" fill="#555B72" stroke="#fff" stroke-width="0.9"/>
<rect x="1060.48" y="182.35" width="35.67" height="34.97" fill="#43A2CA" stroke="#fff" stroke-width="0.9"/>
<rect x="1096.15" y="182.35" width="35.67" height="34.97" fill="#555B72" stroke="#fff" stroke-width="0.9"/>
<rect x="917.8" y="217.32" width="35.67" height="34.97" fill="#555B72" stroke="#fff" stroke-width="0.9"/>
<rect x="953.47" y="217.32" width="35.67" height="34.97" fill="#A8DDB5" stroke="#fff" stroke-width="0.9"/>
<rect x="989.14" y="217.32" width="35.67" height="34.97" fill="#555B72" stroke="#fff" stroke-width="0.9"/>
<rect x="1024.81" y="217.32" width="35.67" height="34.97" fill="#E0F3DB" stroke="#fff" stroke-width="0.9"/>
<rect x="1060.48" y="217.32" width="35.67" height="34.97" fill="#43A2CA" stroke="#fff" stroke-width="0.9"/>
<rect x="1096.15" y="217.32" width="35.67" height="34.97" fill="#555B72" stroke="#fff" stroke-width="0.9"/>
<rect x="1131.82" y="217.32" width="35.67" height="34.97" fill="#555B72" stroke="#fff" stroke-width="0.9"/>
<rect x="917.8" y="252.29" width="35.67" height="34.97" fill="#43A2CA" stroke="#fff" stroke-width="0.9"/>
<rect x="953.47" y="252.29" width="35.67" height="34.97" fill="#555B72" stroke="#fff" stroke-width="0.9"/>
<rect x="989.14" y="252.29" width="35.67" height="34.97" fill="#555B72" stroke="#fff" stroke-width="0.9"/>
<rect x="1024.81" y="252.29" width="35.67" height="34.97" fill="#555B72" stroke="#fff" stroke-width="0.9"/>
<rect x="1060.48" y="252.29" width="35.67" height="34.97" fill="#555B72" stroke="#fff" stroke-width="0.9"/>
<rect x="1096.15" y="252.29" width="35.67" height="34.97" fill="#555B72" stroke="#fff" stroke-width="0.9"/>
<rect x="1131.82" y="252.29" width="35.67" height="34.97" fill="#555B72" stroke="#fff" stroke-width="0.9"/>
<rect x="1167.49" y="252.29" width="35.67" height="34.97" fill="#555B72" stroke="#fff" stroke-width="0.9"/>
<rect x="917.8" y="287.26" width="35.67" height="34.97" fill="#A8DDB5" stroke="#fff" stroke-width="0.9"/>
<rect x="953.47" y="287.26" width="35.67" height="34.97" fill="#555B72" stroke="#fff" stroke-width="0.9"/>
<rect x="989.14" y="287.26" width="35.67" height="34.97" fill="#555B72" stroke="#fff" stroke-width="0.9"/>
<rect x="1024.81" y="287.26" width="35.67" height="34.97" fill="#555B72" stroke="#fff" stroke-width="0.9"/>
<rect x="1060.48" y="287.26" width="35.67" height="34.97" fill="#E0F3DB" stroke="#fff" stroke-width="0.9"/>
<rect x="1096.15" y="287.26" width="35.67" height="34.97" fill="#555B72" stroke="#fff" stroke-width="0.9"/>
<rect x="1131.82" y="287.26" width="35.67" height="34.97" fill="#555B72" stroke="#fff" stroke-width="0.9"/>
<rect x="1167.49" y="287.26" width="35.67" height="34.97" fill="#555B72" stroke="#fff" stroke-width="0.9"/>
<rect x="1203.16" y="287.26" width="35.67" height="34.97" fill="#555B72" stroke="#fff" stroke-width="0.9"/>
<text x="934.84" y="65.05" font-family="'DejaVu Sans','Liberation Sans',sans-serif" font-size="13.5" text-anchor="middle" fill="#0a0a0a" stroke="#0a0a0a" stroke-width="0.25">***</text>
<text x="934.84" y="100.02" font-family="'DejaVu Sans','Liberation Sans',sans-serif" font-size="13.5" text-anchor="middle" fill="#0a0a0a" stroke="#0a0a0a" stroke-width="0.25">***</text>
<text x="934.84" y="134.99" font-family="'DejaVu Sans','Liberation Sans',sans-serif" font-size="13.5" text-anchor="middle" fill="#0a0a0a" stroke="#0a0a0a" stroke-width="0.25">***</text>
<text x="934.84" y="169.97" font-family="'DejaVu Sans','Liberation Sans',sans-serif" font-size="13.5" text-anchor="middle" fill="#0a0a0a" stroke="#0a0a0a" stroke-width="0.25">***</text>
<text x="934.84" y="204.93" font-family="'DejaVu Sans','Liberation Sans',sans-serif" font-size="13.5" text-anchor="middle" fill="#0a0a0a" stroke="#0a0a0a" stroke-width="0.25">*</text>
<text x="970.5" y="204.93" font-family="'DejaVu Sans','Liberation Sans',sans-serif" font-size="13.5" text-anchor="middle" fill="#0a0a0a" stroke="#0a0a0a" stroke-width="0.25">*</text>
<text x="1077.52" y="204.93" font-family="'DejaVu Sans','Liberation Sans',sans-serif" font-size="13.5" text-anchor="middle" fill="#0a0a0a" stroke="#0a0a0a" stroke-width="0.25">***</text>
<text x="970.5" y="239.91" font-family="'DejaVu Sans','Liberation Sans',sans-serif" font-size="13.5" text-anchor="middle" fill="#0a0a0a" stroke="#0a0a0a" stroke-width="0.25">**</text>
<text x="1041.85" y="239.91" font-family="'DejaVu Sans','Liberation Sans',sans-serif" font-size="13.5" text-anchor="middle" fill="#0a0a0a" stroke="#0a0a0a" stroke-width="0.25">*</text>
<text x="1077.52" y="239.91" font-family="'DejaVu Sans','Liberation Sans',sans-serif" font-size="13.5" text-anchor="middle" fill="#0a0a0a" stroke="#0a0a0a" stroke-width="0.25">***</text>
<text x="934.84" y="274.88" font-family="'DejaVu Sans','Liberation Sans',sans-serif" font-size="13.5" text-anchor="middle" fill="#0a0a0a" stroke="#0a0a0a" stroke-width="0.25">***</text>
<text x="934.84" y="309.85" font-family="'DejaVu Sans','Liberation Sans',sans-serif" font-size="13.5" text-anchor="middle" fill="#0a0a0a" stroke="#0a0a0a" stroke-width="0.25">**</text>
<text x="1077.52" y="309.85" font-family="'DejaVu Sans','Liberation Sans',sans-serif" font-size="13.5" text-anchor="middle" fill="#0a0a0a" stroke="#0a0a0a" stroke-width="0.25">*</text>
<text x="903.4" y="27.77" font-family="'DejaVu Sans','Liberation Sans',sans-serif" font-size="14.45" text-anchor="end" fill="#262626">ASD-Adjacent-area</text>
<text transform="translate(930.74,343.03) rotate(-45)" font-family="'DejaVu Sans','Liberation Sans',sans-serif" font-size="14.45" text-anchor="end" fill="#262626">ASD-Adjacent-area</text>
<text x="903.4" y="62.74" font-family="'DejaVu Sans','Liberation Sans',sans-serif" font-size="14.45" text-anchor="end" fill="#262626">CFD-Adjacent-area</text>
<text transform="translate(966.4,343.03) rotate(-45)" font-family="'DejaVu Sans','Liberation Sans',sans-serif" font-size="14.45" text-anchor="end" fill="#262626">CFD-Adjacent-area</text>
<text x="903.4" y="97.71" font-family="'DejaVu Sans','Liberation Sans',sans-serif" font-size="14.45" text-anchor="end" fill="#262626">CPD-Adjacent-area</text>
<text transform="translate(1002.07,343.03) rotate(-45)" font-family="'DejaVu Sans','Liberation Sans',sans-serif" font-size="14.45" text-anchor="end" fill="#262626">CPD-Adjacent-area</text>
<text x="903.4" y="134.39" font-family="'DejaVu Sans','Liberation Sans',sans-serif" font-size="14.45" text-anchor="end" fill="#262626">ASD-Direct</text>
<text transform="translate(1038.35,343.03) rotate(-45)" font-family="'DejaVu Sans','Liberation Sans',sans-serif" font-size="14.45" text-anchor="end" fill="#262626">ASD-Direct</text>
<text x="903.4" y="169.36" font-family="'DejaVu Sans','Liberation Sans',sans-serif" font-size="14.45" text-anchor="end" fill="#262626">CFD-Direct</text>
<text transform="translate(1074.02,343.03) rotate(-45)" font-family="'DejaVu Sans','Liberation Sans',sans-serif" font-size="14.45" text-anchor="end" fill="#262626">CFD-Direct</text>
<text x="903.4" y="204.33" font-family="'DejaVu Sans','Liberation Sans',sans-serif" font-size="14.45" text-anchor="end" fill="#262626">CPD-Direct</text>
<text transform="translate(1109.68,343.03) rotate(-45)" font-family="'DejaVu Sans','Liberation Sans',sans-serif" font-size="14.45" text-anchor="end" fill="#262626">CPD-Direct</text>
<text x="903.4" y="239.3" font-family="'DejaVu Sans','Liberation Sans',sans-serif" font-size="14.45" text-anchor="end" fill="#262626">ASD-Overall</text>
<text transform="translate(1145.36,343.03) rotate(-45)" font-family="'DejaVu Sans','Liberation Sans',sans-serif" font-size="14.45" text-anchor="end" fill="#262626">ASD-Overall</text>
<text x="903.4" y="274.27" font-family="'DejaVu Sans','Liberation Sans',sans-serif" font-size="14.45" text-anchor="end" fill="#262626">CFD-Overall</text>
<text transform="translate(1181.03,343.03) rotate(-45)" font-family="'DejaVu Sans','Liberation Sans',sans-serif" font-size="14.45" text-anchor="end" fill="#262626">CFD-Overall</text>
<text x="903.4" y="309.24" font-family="'DejaVu Sans','Liberation Sans',sans-serif" font-size="14.45" text-anchor="end" fill="#262626">CPD-Overall</text>
<text transform="translate(1216.69,343.03) rotate(-45)" font-family="'DejaVu Sans','Liberation Sans',sans-serif" font-size="14.45" text-anchor="end" fill="#262626">CPD-Overall</text>
<rect x="1093.8" y="6.7" width="161.9" height="88.2" rx="3" fill="#fff" fill-opacity="0.8" stroke="#cccccc" stroke-width="1.1"/>
<rect x="1100.3" y="14" width="28.2" height="9" fill="#43A2CA"/>
<text x="1140" y="23.32" font-family="'DejaVu Sans','Liberation Sans',sans-serif" font-size="14.4" text-anchor="start" fill="#262626">*** (p &lt; 0.001)</text>
<rect x="1100.3" y="35.17" width="28.2" height="9" fill="#A8DDB5"/>
<text x="1140" y="44.49" font-family="'DejaVu Sans','Liberation Sans',sans-serif" font-size="14.4" text-anchor="start" fill="#262626">** (p &lt; 0.01)</text>
<rect x="1100.3" y="56.34" width="28.2" height="9" fill="#E0F3DB"/>
<text x="1140" y="65.66" font-family="'DejaVu Sans','Liberation Sans',sans-serif" font-size="14.4" text-anchor="start" fill="#262626">* (p &lt; 0.05)</text>
<rect x="1100.3" y="77.51" width="28.2" height="9" fill="#555B72"/>
<text x="1140" y="86.83" font-family="'DejaVu Sans','Liberation Sans',sans-serif" font-size="14.4" text-anchor="start" fill="#262626">ns (p ≥ 0.05)</text>
<text x="1096" y="118.7" font-family="'Liberation Sans','DejaVu Sans',sans-serif" font-size="18.3" text-anchor="start" fill="#000">Post-hoc Dunn’s</text>
<text x="1096" y="140.2" font-family="'Liberation Sans','DejaVu Sans',sans-serif" font-size="18.3" text-anchor="start" fill="#000">test results</text>
<rect x="915.8" y="767.1" width="30.44" height="30.39" fill="#555B72" stroke="#fff" stroke-width="0.9"/>
<rect x="915.8" y="797.49" width="30.44" height="30.39" fill="#555B72" stroke="#fff" stroke-width="0.9"/>
<rect x="946.24" y="797.49" width="30.44" height="30.39" fill="#555B72" stroke="#fff" stroke-width="0.9"/>
<rect x="915.8" y="827.88" width="30.44" height="30.39" fill="#43A2CA" stroke="#fff" stroke-width="0.9"/>
<rect x="946.24" y="827.88" width="30.44" height="30.39" fill="#43A2CA" stroke="#fff" stroke-width="0.9"/>
<rect x="976.68" y="827.88" width="30.44" height="30.39" fill="#555B72" stroke="#fff" stroke-width="0.9"/>
<rect x="915.8" y="858.27" width="30.44" height="30.39" fill="#43A2CA" stroke="#fff" stroke-width="0.9"/>
<rect x="946.24" y="858.27" width="30.44" height="30.39" fill="#43A2CA" stroke="#fff" stroke-width="0.9"/>
<rect x="976.68" y="858.27" width="30.44" height="30.39" fill="#43A2CA" stroke="#fff" stroke-width="0.9"/>
<rect x="1007.12" y="858.27" width="30.44" height="30.39" fill="#555B72" stroke="#fff" stroke-width="0.9"/>
<rect x="915.8" y="888.66" width="30.44" height="30.39" fill="#555B72" stroke="#fff" stroke-width="0.9"/>
<rect x="946.24" y="888.66" width="30.44" height="30.39" fill="#A8DDB5" stroke="#fff" stroke-width="0.9"/>
<rect x="976.68" y="888.66" width="30.44" height="30.39" fill="#555B72" stroke="#fff" stroke-width="0.9"/>
<rect x="1007.12" y="888.66" width="30.44" height="30.39" fill="#43A2CA" stroke="#fff" stroke-width="0.9"/>
<rect x="1037.56" y="888.66" width="30.44" height="30.39" fill="#555B72" stroke="#fff" stroke-width="0.9"/>
<rect x="915.8" y="919.05" width="30.44" height="30.39" fill="#A8DDB5" stroke="#fff" stroke-width="0.9"/>
<rect x="946.24" y="919.05" width="30.44" height="30.39" fill="#555B72" stroke="#fff" stroke-width="0.9"/>
<rect x="976.68" y="919.05" width="30.44" height="30.39" fill="#43A2CA" stroke="#fff" stroke-width="0.9"/>
<rect x="1007.12" y="919.05" width="30.44" height="30.39" fill="#43A2CA" stroke="#fff" stroke-width="0.9"/>
<rect x="1037.56" y="919.05" width="30.44" height="30.39" fill="#43A2CA" stroke="#fff" stroke-width="0.9"/>
<rect x="1068" y="919.05" width="30.44" height="30.39" fill="#555B72" stroke="#fff" stroke-width="0.9"/>
<rect x="915.8" y="949.44" width="30.44" height="30.39" fill="#555B72" stroke="#fff" stroke-width="0.9"/>
<rect x="946.24" y="949.44" width="30.44" height="30.39" fill="#555B72" stroke="#fff" stroke-width="0.9"/>
<rect x="976.68" y="949.44" width="30.44" height="30.39" fill="#43A2CA" stroke="#fff" stroke-width="0.9"/>
<rect x="1007.12" y="949.44" width="30.44" height="30.39" fill="#43A2CA" stroke="#fff" stroke-width="0.9"/>
<rect x="1037.56" y="949.44" width="30.44" height="30.39" fill="#555B72" stroke="#fff" stroke-width="0.9"/>
<rect x="1068" y="949.44" width="30.44" height="30.39" fill="#E0F3DB" stroke="#fff" stroke-width="0.9"/>
<rect x="1098.44" y="949.44" width="30.44" height="30.39" fill="#555B72" stroke="#fff" stroke-width="0.9"/>
<rect x="915.8" y="979.83" width="30.44" height="30.39" fill="#43A2CA" stroke="#fff" stroke-width="0.9"/>
<rect x="946.24" y="979.83" width="30.44" height="30.39" fill="#43A2CA" stroke="#fff" stroke-width="0.9"/>
<rect x="976.68" y="979.83" width="30.44" height="30.39" fill="#43A2CA" stroke="#fff" stroke-width="0.9"/>
<rect x="1007.12" y="979.83" width="30.44" height="30.39" fill="#555B72" stroke="#fff" stroke-width="0.9"/>
<rect x="1037.56" y="979.83" width="30.44" height="30.39" fill="#43A2CA" stroke="#fff" stroke-width="0.9"/>
<rect x="1068" y="979.83" width="30.44" height="30.39" fill="#43A2CA" stroke="#fff" stroke-width="0.9"/>
<rect x="1098.44" y="979.83" width="30.44" height="30.39" fill="#43A2CA" stroke="#fff" stroke-width="0.9"/>
<rect x="1128.88" y="979.83" width="30.44" height="30.39" fill="#555B72" stroke="#fff" stroke-width="0.9"/>
<rect x="915.8" y="1010.22" width="30.44" height="30.39" fill="#43A2CA" stroke="#fff" stroke-width="0.9"/>
<rect x="946.24" y="1010.22" width="30.44" height="30.39" fill="#43A2CA" stroke="#fff" stroke-width="0.9"/>
<rect x="976.68" y="1010.22" width="30.44" height="30.39" fill="#43A2CA" stroke="#fff" stroke-width="0.9"/>
<rect x="1007.12" y="1010.22" width="30.44" height="30.39" fill="#E0F3DB" stroke="#fff" stroke-width="0.9"/>
<rect x="1037.56" y="1010.22" width="30.44" height="30.39" fill="#43A2CA" stroke="#fff" stroke-width="0.9"/>
<rect x="1068" y="1010.22" width="30.44" height="30.39" fill="#43A2CA" stroke="#fff" stroke-width="0.9"/>
<rect x="1098.44" y="1010.22" width="30.44" height="30.39" fill="#43A2CA" stroke="#fff" stroke-width="0.9"/>
<rect x="1128.88" y="1010.22" width="30.44" height="30.39" fill="#555B72" stroke="#fff" stroke-width="0.9"/>
<rect x="1159.32" y="1010.22" width="30.44" height="30.39" fill="#555B72" stroke="#fff" stroke-width="0.9"/>
<rect x="915.8" y="1040.61" width="30.44" height="30.39" fill="#43A2CA" stroke="#fff" stroke-width="0.9"/>
<rect x="946.24" y="1040.61" width="30.44" height="30.39" fill="#43A2CA" stroke="#fff" stroke-width="0.9"/>
<rect x="976.68" y="1040.61" width="30.44" height="30.39" fill="#43A2CA" stroke="#fff" stroke-width="0.9"/>
<rect x="1007.12" y="1040.61" width="30.44" height="30.39" fill="#43A2CA" stroke="#fff" stroke-width="0.9"/>
<rect x="1037.56" y="1040.61" width="30.44" height="30.39" fill="#43A2CA" stroke="#fff" stroke-width="0.9"/>
<rect x="1068" y="1040.61" width="30.44" height="30.39" fill="#43A2CA" stroke="#fff" stroke-width="0.9"/>
<rect x="1098.44" y="1040.61" width="30.44" height="30.39" fill="#43A2CA" stroke="#fff" stroke-width="0.9"/>
<rect x="1128.88" y="1040.61" width="30.44" height="30.39" fill="#43A2CA" stroke="#fff" stroke-width="0.9"/>
<rect x="1159.32" y="1040.61" width="30.44" height="30.39" fill="#555B72" stroke="#fff" stroke-width="0.9"/>
<rect x="1189.76" y="1040.61" width="30.44" height="30.39" fill="#555B72" stroke="#fff" stroke-width="0.9"/>
<rect x="915.8" y="1071" width="30.44" height="30.39" fill="#43A2CA" stroke="#fff" stroke-width="0.9"/>
<rect x="946.24" y="1071" width="30.44" height="30.39" fill="#43A2CA" stroke="#fff" stroke-width="0.9"/>
<rect x="976.68" y="1071" width="30.44" height="30.39" fill="#43A2CA" stroke="#fff" stroke-width="0.9"/>
<rect x="1007.12" y="1071" width="30.44" height="30.39" fill="#43A2CA" stroke="#fff" stroke-width="0.9"/>
<rect x="1037.56" y="1071" width="30.44" height="30.39" fill="#43A2CA" stroke="#fff" stroke-width="0.9"/>
<rect x="1068" y="1071" width="30.44" height="30.39" fill="#43A2CA" stroke="#fff" stroke-width="0.9"/>
<rect x="1098.44" y="1071" width="30.44" height="30.39" fill="#43A2CA" stroke="#fff" stroke-width="0.9"/>
<rect x="1128.88" y="1071" width="30.44" height="30.39" fill="#43A2CA" stroke="#fff" stroke-width="0.9"/>
<rect x="1159.32" y="1071" width="30.44" height="30.39" fill="#43A2CA" stroke="#fff" stroke-width="0.9"/>
<rect x="1189.76" y="1071" width="30.44" height="30.39" fill="#43A2CA" stroke="#fff" stroke-width="0.9"/>
<rect x="1220.2" y="1071" width="30.44" height="30.39" fill="#555B72" stroke="#fff" stroke-width="0.9"/>
<text x="930.22" y="846.88" font-family="'DejaVu Sans','Liberation Sans',sans-serif" font-size="13.5" text-anchor="middle" fill="#0a0a0a" stroke="#0a0a0a" stroke-width="0.25">***</text>
<text x="960.66" y="846.88" font-family="'DejaVu Sans','Liberation Sans',sans-serif" font-size="13.5" text-anchor="middle" fill="#0a0a0a" stroke="#0a0a0a" stroke-width="0.25">***</text>
<text x="930.22" y="877.26" font-family="'DejaVu Sans','Liberation Sans',sans-serif" font-size="13.5" text-anchor="middle" fill="#0a0a0a" stroke="#0a0a0a" stroke-width="0.25">***</text>
<text x="960.66" y="877.26" font-family="'DejaVu Sans','Liberation Sans',sans-serif" font-size="13.5" text-anchor="middle" fill="#0a0a0a" stroke="#0a0a0a" stroke-width="0.25">***</text>
<text x="991.1" y="877.26" font-family="'DejaVu Sans','Liberation Sans',sans-serif" font-size="13.5" text-anchor="middle" fill="#0a0a0a" stroke="#0a0a0a" stroke-width="0.25">***</text>
<text x="960.66" y="907.65" font-family="'DejaVu Sans','Liberation Sans',sans-serif" font-size="13.5" text-anchor="middle" fill="#0a0a0a" stroke="#0a0a0a" stroke-width="0.25">**</text>
<text x="1021.54" y="907.65" font-family="'DejaVu Sans','Liberation Sans',sans-serif" font-size="13.5" text-anchor="middle" fill="#0a0a0a" stroke="#0a0a0a" stroke-width="0.25">***</text>
<text x="930.22" y="938.04" font-family="'DejaVu Sans','Liberation Sans',sans-serif" font-size="13.5" text-anchor="middle" fill="#0a0a0a" stroke="#0a0a0a" stroke-width="0.25">**</text>
<text x="991.1" y="938.04" font-family="'DejaVu Sans','Liberation Sans',sans-serif" font-size="13.5" text-anchor="middle" fill="#0a0a0a" stroke="#0a0a0a" stroke-width="0.25">***</text>
<text x="1021.54" y="938.04" font-family="'DejaVu Sans','Liberation Sans',sans-serif" font-size="13.5" text-anchor="middle" fill="#0a0a0a" stroke="#0a0a0a" stroke-width="0.25">***</text>
<text x="1051.98" y="938.04" font-family="'DejaVu Sans','Liberation Sans',sans-serif" font-size="13.5" text-anchor="middle" fill="#0a0a0a" stroke="#0a0a0a" stroke-width="0.25">***</text>
<text x="991.1" y="968.43" font-family="'DejaVu Sans','Liberation Sans',sans-serif" font-size="13.5" text-anchor="middle" fill="#0a0a0a" stroke="#0a0a0a" stroke-width="0.25">***</text>
<text x="1021.54" y="968.43" font-family="'DejaVu Sans','Liberation Sans',sans-serif" font-size="13.5" text-anchor="middle" fill="#0a0a0a" stroke="#0a0a0a" stroke-width="0.25">***</text>
<text x="1082.42" y="968.43" font-family="'DejaVu Sans','Liberation Sans',sans-serif" font-size="13.5" text-anchor="middle" fill="#0a0a0a" stroke="#0a0a0a" stroke-width="0.25">*</text>
<text x="930.22" y="998.83" font-family="'DejaVu Sans','Liberation Sans',sans-serif" font-size="13.5" text-anchor="middle" fill="#0a0a0a" stroke="#0a0a0a" stroke-width="0.25">***</text>
<text x="960.66" y="998.83" font-family="'DejaVu Sans','Liberation Sans',sans-serif" font-size="13.5" text-anchor="middle" fill="#0a0a0a" stroke="#0a0a0a" stroke-width="0.25">***</text>
<text x="991.1" y="998.83" font-family="'DejaVu Sans','Liberation Sans',sans-serif" font-size="13.5" text-anchor="middle" fill="#0a0a0a" stroke="#0a0a0a" stroke-width="0.25">***</text>
<text x="1051.98" y="998.83" font-family="'DejaVu Sans','Liberation Sans',sans-serif" font-size="13.5" text-anchor="middle" fill="#0a0a0a" stroke="#0a0a0a" stroke-width="0.25">***</text>
<text x="1082.42" y="998.83" font-family="'DejaVu Sans','Liberation Sans',sans-serif" font-size="13.5" text-anchor="middle" fill="#0a0a0a" stroke="#0a0a0a" stroke-width="0.25">***</text>
<text x="1112.86" y="998.83" font-family="'DejaVu Sans','Liberation Sans',sans-serif" font-size="13.5" text-anchor="middle" fill="#0a0a0a" stroke="#0a0a0a" stroke-width="0.25">***</text>
<text x="930.22" y="1029.21" font-family="'DejaVu Sans','Liberation Sans',sans-serif" font-size="13.5" text-anchor="middle" fill="#0a0a0a" stroke="#0a0a0a" stroke-width="0.25">***</text>
<text x="960.66" y="1029.21" font-family="'DejaVu Sans','Liberation Sans',sans-serif" font-size="13.5" text-anchor="middle" fill="#0a0a0a" stroke="#0a0a0a" stroke-width="0.25">***</text>
<text x="991.1" y="1029.21" font-family="'DejaVu Sans','Liberation Sans',sans-serif" font-size="13.5" text-anchor="middle" fill="#0a0a0a" stroke="#0a0a0a" stroke-width="0.25">***</text>
<text x="1021.54" y="1029.21" font-family="'DejaVu Sans','Liberation Sans',sans-serif" font-size="13.5" text-anchor="middle" fill="#0a0a0a" stroke="#0a0a0a" stroke-width="0.25">*</text>
<text x="1051.98" y="1029.21" font-family="'DejaVu Sans','Liberation Sans',sans-serif" font-size="13.5" text-anchor="middle" fill="#0a0a0a" stroke="#0a0a0a" stroke-width="0.25">***</text>
<text x="1082.42" y="1029.21" font-family="'DejaVu Sans','Liberation Sans',sans-serif" font-size="13.5" text-anchor="middle" fill="#0a0a0a" stroke="#0a0a0a" stroke-width="0.25">***</text>
<text x="1112.86" y="1029.21" font-family="'DejaVu Sans','Liberation Sans',sans-serif" font-size="13.5" text-anchor="middle" fill="#0a0a0a" stroke="#0a0a0a" stroke-width="0.25">***</text>
<text x="930.22" y="1059.61" font-family="'DejaVu Sans','Liberation Sans',sans-serif" font-size="13.5" text-anchor="middle" fill="#0a0a0a" stroke="#0a0a0a" stroke-width="0.25">***</text>
<text x="960.66" y="1059.61" font-family="'DejaVu Sans','Liberation Sans',sans-serif" font-size="13.5" text-anchor="middle" fill="#0a0a0a" stroke="#0a0a0a" stroke-width="0.25">***</text>
<text x="991.1" y="1059.61" font-family="'DejaVu Sans','Liberation Sans',sans-serif" font-size="13.5" text-anchor="middle" fill="#0a0a0a" stroke="#0a0a0a" stroke-width="0.25">***</text>
<text x="1021.54" y="1059.61" font-family="'DejaVu Sans','Liberation Sans',sans-serif" font-size="13.5" text-anchor="middle" fill="#0a0a0a" stroke="#0a0a0a" stroke-width="0.25">***</text>
<text x="1051.98" y="1059.61" font-family="'DejaVu Sans','Liberation Sans',sans-serif" font-size="13.5" text-anchor="middle" fill="#0a0a0a" stroke="#0a0a0a" stroke-width="0.25">***</text>
<text x="1082.42" y="1059.61" font-family="'DejaVu Sans','Liberation Sans',sans-serif" font-size="13.5" text-anchor="middle" fill="#0a0a0a" stroke="#0a0a0a" stroke-width="0.25">***</text>
<text x="1112.86" y="1059.61" font-family="'DejaVu Sans','Liberation Sans',sans-serif" font-size="13.5" text-anchor="middle" fill="#0a0a0a" stroke="#0a0a0a" stroke-width="0.25">***</text>
<text x="1143.3" y="1059.61" font-family="'DejaVu Sans','Liberation Sans',sans-serif" font-size="13.5" text-anchor="middle" fill="#0a0a0a" stroke="#0a0a0a" stroke-width="0.25">***</text>
<text x="930.22" y="1090" font-family="'DejaVu Sans','Liberation Sans',sans-serif" font-size="13.5" text-anchor="middle" fill="#0a0a0a" stroke="#0a0a0a" stroke-width="0.25">***</text>
<text x="960.66" y="1090" font-family="'DejaVu Sans','Liberation Sans',sans-serif" font-size="13.5" text-anchor="middle" fill="#0a0a0a" stroke="#0a0a0a" stroke-width="0.25">***</text>
<text x="991.1" y="1090" font-family="'DejaVu Sans','Liberation Sans',sans-serif" font-size="13.5" text-anchor="middle" fill="#0a0a0a" stroke="#0a0a0a" stroke-width="0.25">***</text>
<text x="1021.54" y="1090" font-family="'DejaVu Sans','Liberation Sans',sans-serif" font-size="13.5" text-anchor="middle" fill="#0a0a0a" stroke="#0a0a0a" stroke-width="0.25">***</text>
<text x="1051.98" y="1090" font-family="'DejaVu Sans','Liberation Sans',sans-serif" font-size="13.5" text-anchor="middle" fill="#0a0a0a" stroke="#0a0a0a" stroke-width="0.25">***</text>
<text x="1082.42" y="1090" font-family="'DejaVu Sans','Liberation Sans',sans-serif" font-size="13.5" text-anchor="middle" fill="#0a0a0a" stroke="#0a0a0a" stroke-width="0.25">***</text>
<text x="1112.86" y="1090" font-family="'DejaVu Sans','Liberation Sans',sans-serif" font-size="13.5" text-anchor="middle" fill="#0a0a0a" stroke="#0a0a0a" stroke-width="0.25">***</text>
<text x="1143.3" y="1090" font-family="'DejaVu Sans','Liberation Sans',sans-serif" font-size="13.5" text-anchor="middle" fill="#0a0a0a" stroke="#0a0a0a" stroke-width="0.25">***</text>
<text x="1173.74" y="1090" font-family="'DejaVu Sans','Liberation Sans',sans-serif" font-size="13.5" text-anchor="middle" fill="#0a0a0a" stroke="#0a0a0a" stroke-width="0.25">***</text>
<text x="1204.18" y="1090" font-family="'DejaVu Sans','Liberation Sans',sans-serif" font-size="13.5" text-anchor="middle" fill="#0a0a0a" stroke="#0a0a0a" stroke-width="0.25">***</text>
<text x="901.5" y="786.11" font-family="'DejaVu Sans','Liberation Sans',sans-serif" font-size="15.3" text-anchor="end" fill="#262626">ASD-based method</text>
<text transform="translate(927.72,1123.29) rotate(-45)" font-family="'DejaVu Sans','Liberation Sans',sans-serif" font-size="15.3" text-anchor="end" fill="#262626">ASD-based method</text>
<text x="901.5" y="816.5" font-family="'DejaVu Sans','Liberation Sans',sans-serif" font-size="15.3" text-anchor="end" fill="#262626">CFD-based method</text>
<text transform="translate(958.16,1123.29) rotate(-45)" font-family="'DejaVu Sans','Liberation Sans',sans-serif" font-size="15.3" text-anchor="end" fill="#262626">CFD-based method</text>
<text x="901.5" y="846.89" font-family="'DejaVu Sans','Liberation Sans',sans-serif" font-size="15.3" text-anchor="end" fill="#262626">CPD-based method</text>
<text transform="translate(988.6,1123.29) rotate(-45)" font-family="'DejaVu Sans','Liberation Sans',sans-serif" font-size="15.3" text-anchor="end" fill="#262626">CPD-based method</text>
<text x="901.5" y="877.28" font-family="'DejaVu Sans','Liberation Sans',sans-serif" font-size="15.3" text-anchor="end" fill="#262626">Isobe method</text>
<text transform="translate(1019.04,1123.29) rotate(-45)" font-family="'DejaVu Sans','Liberation Sans',sans-serif" font-size="15.3" text-anchor="end" fill="#262626">Isobe method</text>
<text x="901.5" y="907.67" font-family="'DejaVu Sans','Liberation Sans',sans-serif" font-size="15.3" text-anchor="end" fill="#262626">Simon method</text>
<text transform="translate(1049.48,1123.29) rotate(-45)" font-family="'DejaVu Sans','Liberation Sans',sans-serif" font-size="15.3" text-anchor="end" fill="#262626">Simon method</text>
<text x="901.5" y="938.06" font-family="'DejaVu Sans','Liberation Sans',sans-serif" font-size="15.3" text-anchor="end" fill="#262626">Barchiesi method</text>
<text transform="translate(1079.92,1123.29) rotate(-45)" font-family="'DejaVu Sans','Liberation Sans',sans-serif" font-size="15.3" text-anchor="end" fill="#262626">Barchiesi method</text>
<text x="901.5" y="968.45" font-family="'DejaVu Sans','Liberation Sans',sans-serif" font-size="15.3" text-anchor="end" fill="#262626">Chen method</text>
<text transform="translate(1110.36,1123.29) rotate(-45)" font-family="'DejaVu Sans','Liberation Sans',sans-serif" font-size="15.3" text-anchor="end" fill="#262626">Chen method</text>
<text x="901.5" y="998.84" font-family="'DejaVu Sans','Liberation Sans',sans-serif" font-size="15.3" text-anchor="end" fill="#262626">Zhao method</text>
<text transform="translate(1140.8,1123.29) rotate(-45)" font-family="'DejaVu Sans','Liberation Sans',sans-serif" font-size="15.3" text-anchor="end" fill="#262626">Zhao method</text>
<text x="901.5" y="1029.23" font-family="'DejaVu Sans','Liberation Sans',sans-serif" font-size="15.3" text-anchor="end" fill="#262626">Weiss method</text>
<text transform="translate(1171.24,1123.29) rotate(-45)" font-family="'DejaVu Sans','Liberation Sans',sans-serif" font-size="15.3" text-anchor="end" fill="#262626">Weiss method</text>
<text x="901.5" y="1059.62" font-family="'DejaVu Sans','Liberation Sans',sans-serif" font-size="15.3" text-anchor="end" fill="#262626">Mai method</text>
<text transform="translate(1201.68,1123.29) rotate(-45)" font-family="'DejaVu Sans','Liberation Sans',sans-serif" font-size="15.3" text-anchor="end" fill="#262626">Mai method</text>
<text x="901.5" y="1090.01" font-family="'DejaVu Sans','Liberation Sans',sans-serif" font-size="15.3" text-anchor="end" fill="#262626">Lebreton method</text>
<text transform="translate(1232.12,1123.29) rotate(-45)" font-family="'DejaVu Sans','Liberation Sans',sans-serif" font-size="15.3" text-anchor="end" fill="#262626">Lebreton method</text>
<rect x="1083.3" y="766.7" width="169.1" height="95" rx="3" fill="#fff" fill-opacity="0.8" stroke="#cccccc" stroke-width="1.1"/>
<rect x="1089.8" y="774.7" width="28.6" height="9" fill="#43A2CA"/>
<text x="1131.7" y="784.28" font-family="'DejaVu Sans','Liberation Sans',sans-serif" font-size="15.15" text-anchor="start" fill="#262626">*** (p &lt; 0.001)</text>
<rect x="1089.8" y="797.33" width="28.6" height="9" fill="#A8DDB5"/>
<text x="1131.7" y="806.91" font-family="'DejaVu Sans','Liberation Sans',sans-serif" font-size="15.15" text-anchor="start" fill="#262626">** (p &lt; 0.01)</text>
<rect x="1089.8" y="819.96" width="28.6" height="9" fill="#E0F3DB"/>
<text x="1131.7" y="829.54" font-family="'DejaVu Sans','Liberation Sans',sans-serif" font-size="15.15" text-anchor="start" fill="#262626">* (p &lt; 0.05)</text>
<rect x="1089.8" y="842.59" width="28.6" height="9" fill="#555B72"/>
<text x="1131.7" y="852.17" font-family="'DejaVu Sans','Liberation Sans',sans-serif" font-size="15.15" text-anchor="start" fill="#262626">ns (p ≥ 0.05)</text>
<text x="1092.6" y="880" font-family="'Liberation Sans','DejaVu Sans',sans-serif" font-size="18.3" text-anchor="start" fill="#000">Post-hoc Dunn’s</text>
<text x="1092.6" y="902.2" font-family="'Liberation Sans','DejaVu Sans',sans-serif" font-size="18.3" text-anchor="start" fill="#000">test results</text>
<path d="M961.2,486 L961.2,484.5 L962.2,484.5 L963.2,484.5 L964.2,484.5 L965.2,484.5 L966.2,484.5 L967.2,484.5 L968.2,484.5 L969.2,484.5 L970.2,484.5 L971.2,484.5 L972.2,484.5 L973.2,484.5 L974.2,484.5 L975.2,484.5 L976.2,484.5 L977.2,484.5 L978.2,484.5 L979.2,484.5 L980.2,484.5 L981.2,484.5 L982.2,484.5 L983.2,484.5 L984.2,484.5 L985.2,484.5 L986.2,484.5 L987.2,484.5 L988.2,484.5 L989.2,484.5 L990.2,484.5 L991.2,484.5 L992.2,484.5 L993.2,484.5 L994.2,484.5 L995.2,484.5 L996.2,484.5 L997.2,484.5 L998.2,484.5 L999.2,484.5 L1000.2,484.5 L1001.2,484.5 L1002.2,484.49 L1003.2,484.47 L1004.2,484.45 L1005.2,484.43 L1006.2,484.41 L1007.2,484.38 L1008.2,484.34 L1009.2,484.31 L1010.2,484.27 L1011.2,484.23 L1012.2,484.19 L1013.2,484.12 L1014.2,484.02 L1015.2,483.91 L1016.2,483.79 L1017.2,483.67 L1018.2,483.58 L1019.2,483.52 L1020.2,483.5 L1021.2,483.55 L1022.2,483.65 L1023.2,483.77 L1024.2,483.89 L1025.2,483.98 L1026.2,484 L1027.2,483.93 L1028.2,483.78 L1029.2,483.55 L1030.2,483.26 L1031.2,482.92 L1032.2,482.25 L1033.2,481.19 L1034.2,479.84 L1035.2,478.3 L1036.2,476.65 L1037.2,474.36 L1038.2,471.57 L1039.2,468.81 L1040.2,466.61 L1041.2,464.51 L1042.2,462.63 L1043.2,461.57 L1044.2,462.17 L1045.2,464.66 L1046.2,467.59 L1047.2,471.41 L1048.2,475.54 L1049.2,478.44 L1050.2,480.59 L1051.2,482.36 L1052.2,483.39 L1053.2,483.63 L1054.2,483.78 L1055.2,483.9 L1056.2,484 L1057.2,484.07 L1058.2,484.13 L1059.2,484.17 L1060.2,484.21 L1061.2,484.24 L1062.2,484.27 L1063.2,484.3 L1064.2,484.33 L1065.2,484.36 L1066.2,484.39 L1067.2,484.42 L1068.2,484.44 L1069.2,484.47 L1070.2,484.49 L1071.2,484.52 L1072.2,484.54 L1073.2,484.56 L1074.2,484.58 L1075.2,484.6 L1076.2,484.62 L1077.2,484.64 L1078.2,484.66 L1079.2,484.67 L1080.2,484.69 L1081.2,484.7 L1082.2,484.71 L1083.2,484.73 L1084.2,484.74 L1085.2,484.75 L1086.2,484.76 L1087.2,484.77 L1088.2,484.77 L1089.2,484.78 L1090.2,484.79 L1091.2,484.79 L1092.2,484.79 L1093.2,484.8 L1094.2,484.8 L1095.2,484.8 L1095.7,484.8 L1095.7,486 Z" fill="#9a9a9a" fill-opacity="0.42" stroke="none"/>
<line x1="961.2" y1="486" x2="961.2" y2="461.5" stroke="#9a9a9a" stroke-opacity="0.6" stroke-width="1.2"/>
<path d="M1011.9,510.2H1036.1M1044.5,510.2H1048.9M1011.9,500.45V519.95M1048.9,500.45V519.95" stroke="#1a1a1a" stroke-width="1.5" fill="none"/>
<rect x="1036.1" y="492.7" width="8.4" height="35" fill="#8a8a8a" stroke="#1a1a1a" stroke-width="1.5" stroke-linejoin="round"/>
<line x1="1043.6" y1="492.7" x2="1043.6" y2="527.7" stroke="#1a1a1a" stroke-width="1.5"/>
<path d="M948.7,609.2 L948.7,607.7 L949.7,607.7 L950.7,607.7 L951.7,607.7 L952.7,607.7 L953.7,607.7 L954.7,607.7 L955.7,607.7 L956.7,607.7 L957.7,607.7 L958.7,607.7 L959.7,607.7 L960.7,607.7 L961.7,607.7 L962.7,607.69 L963.7,607.69 L964.7,607.69 L965.7,607.69 L966.7,607.69 L967.7,607.69 L968.7,607.69 L969.7,607.69 L970.7,607.68 L971.7,607.68 L972.7,607.68 L973.7,607.68 L974.7,607.68 L975.7,607.68 L976.7,607.67 L977.7,607.67 L978.7,607.67 L979.7,607.67 L980.7,607.67 L981.7,607.66 L982.7,607.66 L983.7,607.66 L984.7,607.66 L985.7,607.65 L986.7,607.65 L987.7,607.65 L988.7,607.64 L989.7,607.64 L990.7,607.64 L991.7,607.63 L992.7,607.63 L993.7,607.63 L994.7,607.62 L995.7,607.62 L996.7,607.61 L997.7,607.61 L998.7,607.61 L999.7,607.6 L1000.7,607.6 L1001.7,607.58 L1002.7,607.57 L1003.7,607.55 L1004.7,607.52 L1005.7,607.49 L1006.7,607.45 L1007.7,607.41 L1008.7,607.37 L1009.7,607.32 L1010.7,607.27 L1011.7,607.22 L1012.7,607.15 L1013.7,607.07 L1014.7,606.96 L1015.7,606.82 L1016.7,606.66 L1017.7,606.49 L1018.7,606.29 L1019.7,606.07 L1020.7,605.81 L1021.7,605.45 L1022.7,605.01 L1023.7,604.5 L1024.7,603.95 L1025.7,603.38 L1026.7,602.77 L1027.7,602.1 L1028.7,601.34 L1029.7,600.48 L1030.7,599.49 L1031.7,598.31 L1032.7,597 L1033.7,595.59 L1034.7,594.14 L1035.7,592.6 L1036.7,590.84 L1037.7,589.08 L1038.7,587.57 L1039.7,586.36 L1040.7,585.22 L1041.7,584.54 L1042.7,584.69 L1043.7,585.43 L1044.7,586.41 L1045.7,587.41 L1046.7,588.61 L1047.7,590 L1048.7,591.52 L1049.7,593.42 L1050.7,595.62 L1051.7,597.87 L1052.7,599.9 L1053.7,601.48 L1054.7,602.86 L1055.7,604.14 L1056.7,605.19 L1057.7,605.88 L1058.7,606.21 L1059.7,606.47 L1060.7,606.69 L1061.7,606.88 L1062.7,607.02 L1063.7,607.12 L1064.7,607.19 L1065.7,607.22 L1066.7,607.25 L1067.7,607.28 L1068.7,607.31 L1069.7,607.34 L1070.7,607.36 L1071.7,607.38 L1072.7,607.41 L1073.7,607.43 L1074.7,607.45 L1075.7,607.47 L1076.7,607.48 L1077.7,607.5 L1078.7,607.52 L1079.7,607.53 L1080.7,607.54 L1081.7,607.56 L1082.7,607.57 L1083.7,607.58 L1084.7,607.59 L1085.7,607.6 L1086.7,607.61 L1087.7,607.62 L1088.7,607.63 L1089.7,607.64 L1090.7,607.64 L1091.7,607.65 L1092.7,607.66 L1093.7,607.66 L1094.7,607.67 L1095.7,607.68 L1096.7,607.68 L1097.7,607.69 L1098.7,607.69 L1099.7,607.7 L1100.7,607.7 L1101.7,607.71 L1102.7,607.72 L1103.7,607.72 L1104.7,607.73 L1105.7,607.73 L1106.7,607.74 L1107.7,607.74 L1108.7,607.75 L1109.7,607.75 L1110.7,607.76 L1111.7,607.76 L1112.7,607.77 L1113.7,607.77 L1114.7,607.78 L1115.7,607.78 L1116.7,607.79 L1117.7,607.79 L1118.7,607.8 L1119.7,607.8 L1120.7,607.81 L1121.7,607.81 L1122.7,607.82 L1123.7,607.82 L1124.7,607.83 L1125.7,607.83 L1126.7,607.84 L1127.7,607.84 L1128.7,607.84 L1129.7,607.85 L1130.7,607.85 L1131.7,607.86 L1132.7,607.86 L1133.7,607.86 L1134.7,607.87 L1135.7,607.87 L1136.7,607.88 L1137.7,607.88 L1138.7,607.88 L1139.7,607.89 L1140.7,607.89 L1141.7,607.9 L1142.7,607.9 L1143.7,607.9 L1144.7,607.91 L1145.7,607.91 L1146.7,607.91 L1147.7,607.92 L1148.7,607.92 L1149.7,607.92 L1150.7,607.93 L1151.7,607.93 L1152.7,607.93 L1153.7,607.93 L1154.7,607.94 L1155.7,607.94 L1156.7,607.94 L1157.7,607.95 L1158.7,607.95 L1159.7,607.95 L1160.7,607.95 L1161.7,607.96 L1162.7,607.96 L1163.7,607.96 L1164.7,607.96 L1165.7,607.97 L1166.7,607.97 L1167.7,607.97 L1168.7,607.97 L1169.7,607.97 L1170.7,607.98 L1171.7,607.98 L1172.7,607.98 L1173.7,607.98 L1174.7,607.98 L1175.7,607.98 L1176.7,607.99 L1177.7,607.99 L1178.7,607.99 L1179.7,607.99 L1180.7,607.99 L1181.7,607.99 L1182.7,607.99 L1183.7,607.99 L1184.7,607.99 L1185.7,608 L1186.7,608 L1187.7,608 L1188.7,608 L1189.7,608 L1190.7,608 L1191.7,608 L1192.7,608 L1193.7,608 L1194.7,608 L1195.7,608 L1196.7,608 L1196.7,609.2 Z" fill="#9a9a9a" fill-opacity="0.42" stroke="none"/>
<line x1="948.7" y1="609.2" x2="948.7" y2="584.5" stroke="#9a9a9a" stroke-opacity="0.6" stroke-width="1.2"/>
<path d="M949.2,633.2H1035.3M1044.5,633.2H1050.7M949.2,623.7V642.7M1050.7,623.7V642.7" stroke="#1a1a1a" stroke-width="1.5" fill="none"/>
<rect x="1035.3" y="615.25" width="9.2" height="35.9" fill="#8a8a8a" stroke="#1a1a1a" stroke-width="1.5" stroke-linejoin="round"/>
<line x1="1042.8" y1="615.25" x2="1042.8" y2="651.15" stroke="#1a1a1a" stroke-width="1.5"/>
<line x1="908.1" y1="510.2" x2="915.6" y2="510.2" stroke="#000" stroke-width="1.5"/>
<text x="901.6" y="516.22" font-family="'DejaVu Sans','Liberation Sans',sans-serif" font-size="13.75" text-anchor="end" fill="#262626">MS validation data</text>
<line x1="908.1" y1="633.2" x2="915.6" y2="633.2" stroke="#000" stroke-width="1.5"/>
<text x="901.6" y="639.23" font-family="'DejaVu Sans','Liberation Sans',sans-serif" font-size="13.75" text-anchor="end" fill="#262626">Balance validation data</text>
<line x1="915.75" y1="694.9" x2="915.75" y2="701.4" stroke="#000" stroke-width="1.5"/>
<text x="916.25" y="718.3" font-family="'DejaVu Sans','Liberation Sans',sans-serif" font-size="13.75" text-anchor="middle" fill="#262626">10<tspan dy="-4.8" font-size="9.62">−3</tspan></text>
<line x1="928.68" y1="694.9" x2="928.68" y2="690.3" stroke="#000" stroke-width="1.0"/>
<line x1="936.24" y1="694.9" x2="936.24" y2="690.3" stroke="#000" stroke-width="1.0"/>
<line x1="941.61" y1="694.9" x2="941.61" y2="690.3" stroke="#000" stroke-width="1.0"/>
<line x1="945.77" y1="694.9" x2="945.77" y2="690.3" stroke="#000" stroke-width="1.0"/>
<line x1="949.17" y1="694.9" x2="949.17" y2="690.3" stroke="#000" stroke-width="1.0"/>
<line x1="952.05" y1="694.9" x2="952.05" y2="690.3" stroke="#000" stroke-width="1.0"/>
<line x1="954.54" y1="694.9" x2="954.54" y2="690.3" stroke="#000" stroke-width="1.0"/>
<line x1="956.73" y1="694.9" x2="956.73" y2="690.3" stroke="#000" stroke-width="1.0"/>
<line x1="958.7" y1="694.9" x2="958.7" y2="701.4" stroke="#000" stroke-width="1.5"/>
<text x="959.2" y="718.3" font-family="'DejaVu Sans','Liberation Sans',sans-serif" font-size="13.75" text-anchor="middle" fill="#262626">10<tspan dy="-4.8" font-size="9.62">−2</tspan></text>
<line x1="971.63" y1="694.9" x2="971.63" y2="690.3" stroke="#000" stroke-width="1.0"/>
<line x1="979.19" y1="694.9" x2="979.19" y2="690.3" stroke="#000" stroke-width="1.0"/>
<line x1="984.56" y1="694.9" x2="984.56" y2="690.3" stroke="#000" stroke-width="1.0"/>
<line x1="988.72" y1="694.9" x2="988.72" y2="690.3" stroke="#000" stroke-width="1.0"/>
<line x1="992.12" y1="694.9" x2="992.12" y2="690.3" stroke="#000" stroke-width="1.0"/>
<line x1="995" y1="694.9" x2="995" y2="690.3" stroke="#000" stroke-width="1.0"/>
<line x1="997.49" y1="694.9" x2="997.49" y2="690.3" stroke="#000" stroke-width="1.0"/>
<line x1="999.68" y1="694.9" x2="999.68" y2="690.3" stroke="#000" stroke-width="1.0"/>
<line x1="1001.65" y1="694.9" x2="1001.65" y2="701.4" stroke="#000" stroke-width="1.5"/>
<text x="1002.15" y="718.3" font-family="'DejaVu Sans','Liberation Sans',sans-serif" font-size="13.75" text-anchor="middle" fill="#262626">10<tspan dy="-4.8" font-size="9.62">−1</tspan></text>
<line x1="1014.58" y1="694.9" x2="1014.58" y2="690.3" stroke="#000" stroke-width="1.0"/>
<line x1="1022.14" y1="694.9" x2="1022.14" y2="690.3" stroke="#000" stroke-width="1.0"/>
<line x1="1027.51" y1="694.9" x2="1027.51" y2="690.3" stroke="#000" stroke-width="1.0"/>
<line x1="1031.67" y1="694.9" x2="1031.67" y2="690.3" stroke="#000" stroke-width="1.0"/>
<line x1="1035.07" y1="694.9" x2="1035.07" y2="690.3" stroke="#000" stroke-width="1.0"/>
<line x1="1037.95" y1="694.9" x2="1037.95" y2="690.3" stroke="#000" stroke-width="1.0"/>
<line x1="1040.44" y1="694.9" x2="1040.44" y2="690.3" stroke="#000" stroke-width="1.0"/>
<line x1="1042.63" y1="694.9" x2="1042.63" y2="690.3" stroke="#000" stroke-width="1.0"/>
<line x1="1044.6" y1="694.9" x2="1044.6" y2="701.4" stroke="#000" stroke-width="1.5"/>
<text x="1045.1" y="718.3" font-family="'DejaVu Sans','Liberation Sans',sans-serif" font-size="13.75" text-anchor="middle" fill="#262626">10<tspan dy="-4.8" font-size="9.62">0</tspan></text>
<line x1="1057.53" y1="694.9" x2="1057.53" y2="690.3" stroke="#000" stroke-width="1.0"/>
<line x1="1065.09" y1="694.9" x2="1065.09" y2="690.3" stroke="#000" stroke-width="1.0"/>
<line x1="1070.46" y1="694.9" x2="1070.46" y2="690.3" stroke="#000" stroke-width="1.0"/>
<line x1="1074.62" y1="694.9" x2="1074.62" y2="690.3" stroke="#000" stroke-width="1.0"/>
<line x1="1078.02" y1="694.9" x2="1078.02" y2="690.3" stroke="#000" stroke-width="1.0"/>
<line x1="1080.9" y1="694.9" x2="1080.9" y2="690.3" stroke="#000" stroke-width="1.0"/>
<line x1="1083.39" y1="694.9" x2="1083.39" y2="690.3" stroke="#000" stroke-width="1.0"/>
<line x1="1085.58" y1="694.9" x2="1085.58" y2="690.3" stroke="#000" stroke-width="1.0"/>
<line x1="1087.55" y1="694.9" x2="1087.55" y2="701.4" stroke="#000" stroke-width="1.5"/>
<text x="1088.05" y="718.3" font-family="'DejaVu Sans','Liberation Sans',sans-serif" font-size="13.75" text-anchor="middle" fill="#262626">10<tspan dy="-4.8" font-size="9.62">1</tspan></text>
<line x1="1100.48" y1="694.9" x2="1100.48" y2="690.3" stroke="#000" stroke-width="1.0"/>
<line x1="1108.04" y1="694.9" x2="1108.04" y2="690.3" stroke="#000" stroke-width="1.0"/>
<line x1="1113.41" y1="694.9" x2="1113.41" y2="690.3" stroke="#000" stroke-width="1.0"/>
<line x1="1117.57" y1="694.9" x2="1117.57" y2="690.3" stroke="#000" stroke-width="1.0"/>
<line x1="1120.97" y1="694.9" x2="1120.97" y2="690.3" stroke="#000" stroke-width="1.0"/>
<line x1="1123.85" y1="694.9" x2="1123.85" y2="690.3" stroke="#000" stroke-width="1.0"/>
<line x1="1126.34" y1="694.9" x2="1126.34" y2="690.3" stroke="#000" stroke-width="1.0"/>
<line x1="1128.53" y1="694.9" x2="1128.53" y2="690.3" stroke="#000" stroke-width="1.0"/>
<line x1="1130.5" y1="694.9" x2="1130.5" y2="701.4" stroke="#000" stroke-width="1.5"/>
<text x="1131" y="718.3" font-family="'DejaVu Sans','Liberation Sans',sans-serif" font-size="13.75" text-anchor="middle" fill="#262626">10<tspan dy="-4.8" font-size="9.62">2</tspan></text>
<line x1="1143.43" y1="694.9" x2="1143.43" y2="690.3" stroke="#000" stroke-width="1.0"/>
<line x1="1150.99" y1="694.9" x2="1150.99" y2="690.3" stroke="#000" stroke-width="1.0"/>
<line x1="1156.36" y1="694.9" x2="1156.36" y2="690.3" stroke="#000" stroke-width="1.0"/>
<line x1="1160.52" y1="694.9" x2="1160.52" y2="690.3" stroke="#000" stroke-width="1.0"/>
<line x1="1163.92" y1="694.9" x2="1163.92" y2="690.3" stroke="#000" stroke-width="1.0"/>
<line x1="1166.8" y1="694.9" x2="1166.8" y2="690.3" stroke="#000" stroke-width="1.0"/>
<line x1="1169.29" y1="694.9" x2="1169.29" y2="690.3" stroke="#000" stroke-width="1.0"/>
<line x1="1171.48" y1="694.9" x2="1171.48" y2="690.3" stroke="#000" stroke-width="1.0"/>
<line x1="1173.45" y1="694.9" x2="1173.45" y2="701.4" stroke="#000" stroke-width="1.5"/>
<text x="1173.95" y="718.3" font-family="'DejaVu Sans','Liberation Sans',sans-serif" font-size="13.75" text-anchor="middle" fill="#262626">10<tspan dy="-4.8" font-size="9.62">3</tspan></text>
<line x1="1186.38" y1="694.9" x2="1186.38" y2="690.3" stroke="#000" stroke-width="1.0"/>
<line x1="1193.94" y1="694.9" x2="1193.94" y2="690.3" stroke="#000" stroke-width="1.0"/>
<line x1="1199.31" y1="694.9" x2="1199.31" y2="690.3" stroke="#000" stroke-width="1.0"/>
<line x1="1203.47" y1="694.9" x2="1203.47" y2="690.3" stroke="#000" stroke-width="1.0"/>
<line x1="1206.87" y1="694.9" x2="1206.87" y2="690.3" stroke="#000" stroke-width="1.0"/>
<line x1="1209.75" y1="694.9" x2="1209.75" y2="690.3" stroke="#000" stroke-width="1.0"/>
<line x1="1212.24" y1="694.9" x2="1212.24" y2="690.3" stroke="#000" stroke-width="1.0"/>
<line x1="1214.43" y1="694.9" x2="1214.43" y2="690.3" stroke="#000" stroke-width="1.0"/>
<line x1="1216.4" y1="694.9" x2="1216.4" y2="701.4" stroke="#000" stroke-width="1.5"/>
<text x="1216.9" y="718.3" font-family="'DejaVu Sans','Liberation Sans',sans-serif" font-size="13.75" text-anchor="middle" fill="#262626">10<tspan dy="-4.8" font-size="9.62">4</tspan></text>
<rect x="915.6" y="448.2" width="301" height="246.7" fill="none" stroke="#000" stroke-width="1.6"/>
<text x="1065.2" y="740.4" font-family="'DejaVu Sans','Liberation Sans',sans-serif" font-size="14.85" text-anchor="middle" fill="#262626">Relative Error (log scale)</text>
<path d="M553.3,780.7 L553.3,778.7 L554.3,778.7 L555.3,778.7 L556.3,778.7 L557.3,778.7 L558.3,778.7 L559.3,778.7 L560.3,778.7 L561.3,778.7 L562.3,778.7 L563.3,778.7 L564.3,778.7 L565.3,778.7 L566.3,778.7 L567.3,778.7 L568.3,778.7 L569.3,778.7 L570.3,778.7 L571.3,778.63 L572.3,778.49 L573.3,778.31 L574.3,778.09 L575.3,777.86 L576.3,777.63 L577.3,777.36 L578.3,777.03 L579.3,776.67 L580.3,776.31 L581.3,775.94 L582.3,775.6 L583.3,775.22 L584.3,774.82 L585.3,774.42 L586.3,774.08 L587.3,773.81 L588.3,773.67 L589.3,773.56 L590.3,773.45 L591.3,773.36 L592.3,773.28 L593.3,773.22 L594.3,773.16 L595.3,773.13 L596.3,773.1 L597.3,773.1 L598.3,773.1 L599.3,773.11 L600.3,773.11 L601.3,773.12 L602.3,773.14 L603.3,773.15 L604.3,773.17 L605.3,773.19 L606.3,773.21 L607.3,773.26 L608.3,773.34 L609.3,773.45 L610.3,773.59 L611.3,773.76 L612.3,774.13 L613.3,774.66 L614.3,775.26 L615.3,775.85 L616.3,776.33 L617.3,776.79 L618.3,777.23 L619.3,777.64 L620.3,778 L621.3,778.28 L622.3,778.53 L623.3,778.77 L624.3,778.98 L625.3,779.17 L626.3,779.33 L627.3,779.45 L628,779.5 L628,780.7 Z" fill="#FF6B6B" fill-opacity="0.34" stroke="none"/>
<line x1="553.3" y1="780.7" x2="553.3" y2="773.1" stroke="#FF6B6B" stroke-opacity="0.45" stroke-width="1.0"/>
<path d="M554.2,786.6H586.3M606.6,786.6H615.3M554.2,784.1V789.1M615.3,784.1V789.1" stroke="#1c1c1c" stroke-width="1.4" fill="none"/>
<rect x="586.3" y="782.4" width="20.3" height="8.4" fill="#FF6B6B" stroke="#1c1c1c" stroke-width="1.4" stroke-linejoin="round"/>
<line x1="597.9" y1="782.4" x2="597.9" y2="790.8" stroke="#1c1c1c" stroke-width="1.4"/>
<line x1="282.1" y1="785.8" x2="289.7" y2="785.8" stroke="#000" stroke-width="1.7"/>
<text x="274.2" y="792.24" font-family="'DejaVu Sans','Liberation Sans',sans-serif" font-size="14.85" text-anchor="end" fill="#262626">ASD-based method</text>
<path d="M535,810.58 L535,808.58 L536,808.58 L537,808.58 L538,808.58 L539,808.58 L540,808.58 L541,808.58 L542,808.58 L543,808.58 L544,808.58 L545,808.58 L546,808.58 L547,808.58 L548,808.58 L549,808.58 L550,808.58 L551,808.58 L552,808.58 L553,808.58 L554,808.58 L555,808.58 L556,808.58 L557,808.58 L558,808.58 L559,808.58 L560,808.58 L561,808.55 L562,808.46 L563,808.32 L564,808.15 L565,807.96 L566,807.77 L567,807.58 L568,807.39 L569,807.17 L570,806.94 L571,806.69 L572,806.42 L573,806.15 L574,805.87 L575,805.58 L576,805.28 L577,804.98 L578,804.65 L579,804.31 L580,803.95 L581,803.58 L582,803.11 L583,802.53 L584,801.97 L585,801.55 L586,801.38 L587,801.51 L588,801.83 L589,802.25 L590,802.7 L591,803.08 L592,803.4 L593,803.73 L594,804.05 L595,804.33 L596,804.58 L597,804.78 L598,804.94 L599,805.1 L600,805.28 L601,805.48 L602,805.69 L603,805.91 L604,806.14 L605,806.36 L606,806.58 L607,806.8 L608,807.03 L609,807.25 L610,807.48 L611,807.69 L612,807.9 L613,808.08 L614,808.25 L615,808.42 L616,808.58 L617,808.73 L618,808.88 L619,809.02 L620,809.15 L621,809.27 L622,809.38 L622,810.58 Z" fill="#FF6B6B" fill-opacity="0.34" stroke="none"/>
<line x1="535" y1="810.58" x2="535" y2="801.38" stroke="#FF6B6B" stroke-opacity="0.45" stroke-width="1.0"/>
<path d="M535.6,816.48H583.3M599.8,816.48H606.6M535.6,813.98V818.98M606.6,813.98V818.98" stroke="#1c1c1c" stroke-width="1.4" fill="none"/>
<rect x="583.3" y="812.28" width="16.5" height="8.4" fill="#FF6B6B" stroke="#1c1c1c" stroke-width="1.4" stroke-linejoin="round"/>
<line x1="589.6" y1="812.28" x2="589.6" y2="820.68" stroke="#1c1c1c" stroke-width="1.4"/>
<line x1="282.1" y1="815.68" x2="289.7" y2="815.68" stroke="#000" stroke-width="1.7"/>
<text x="274.2" y="822.12" font-family="'DejaVu Sans','Liberation Sans',sans-serif" font-size="14.85" text-anchor="end" fill="#262626">CFD-based method</text>
<path d="M506,840.46 L506,838.46 L507,838.46 L508,838.46 L509,838.46 L510,838.46 L511,838.46 L512,838.46 L513,838.46 L514,838.46 L515,838.46 L516,838.46 L517,838.46 L518,838.46 L519,838.46 L520,838.46 L521,838.46 L522,838.46 L523,838.46 L524,838.46 L525,838.46 L526,838.46 L527,838.46 L528,838.46 L529,838.46 L530,838.46 L531,838.46 L532,838.46 L533,838.46 L534,838.46 L535,838.46 L536,838.46 L537,838.46 L538,838.46 L539,838.46 L540,838.46 L541,838.46 L542,838.46 L543,838.46 L544,838.46 L545,838.46 L546,838.46 L547,838.46 L548,838.46 L549,838.46 L550,838.46 L551,838.46 L552,838.46 L553,838.46 L554,838.46 L555,838.46 L556,838.46 L557,838.46 L558,838.46 L559,838.46 L560,838.46 L561,838.46 L562,838.46 L563,838.46 L564,838.46 L565,838.46 L566,838.46 L567,838.46 L568,838.46 L569,838.46 L570,838.46 L571,838.46 L572,838.44 L573,838.42 L574,838.39 L575,838.35 L576,838.31 L577,838.26 L578,838.22 L579,838.16 L580,838.11 L581,838.06 L582,838 L583,837.95 L584,837.91 L585,837.86 L586,837.82 L587,837.78 L588,837.75 L589,837.72 L590,837.68 L591,837.65 L592,837.61 L593,837.57 L594,837.53 L595,837.47 L596,837.41 L597,837.34 L598,837.26 L599,837.12 L600,836.88 L601,836.58 L602,836.22 L603,835.84 L604,835.46 L605,835.02 L606,834.5 L607,833.95 L608,833.42 L609,832.96 L610,832.52 L611,832.07 L612,831.66 L613,831.37 L614,831.26 L615,831.36 L616,831.64 L617,832.02 L618,832.46 L619,833.15 L620,834.15 L621,835.18 L622,835.96 L623,836.52 L624,837.02 L625,837.42 L626,837.66 L627,837.8 L628,837.91 L629,838 L630,838.08 L631,838.15 L632,838.21 L633,838.27 L634,838.33 L635,838.39 L636,838.46 L637,838.54 L638,838.61 L639,838.69 L640,838.76 L641,838.83 L642,838.91 L643,838.98 L644,839.05 L645,839.12 L646,839.19 L647,839.26 L647,840.46 Z" fill="#FF6B6B" fill-opacity="0.34" stroke="none"/>
<line x1="506" y1="840.46" x2="506" y2="831.26" stroke="#FF6B6B" stroke-opacity="0.45" stroke-width="1.0"/>
<path d="M506.5,846.36H598.8M616.3,846.36H623.2M506.5,843.86V848.86M623.2,843.86V848.86" stroke="#1c1c1c" stroke-width="1.4" fill="none"/>
<rect x="598.8" y="842.16" width="17.5" height="8.4" fill="#FF6B6B" stroke="#1c1c1c" stroke-width="1.4" stroke-linejoin="round"/>
<line x1="610.6" y1="842.16" x2="610.6" y2="850.56" stroke="#1c1c1c" stroke-width="1.4"/>
<line x1="282.1" y1="845.56" x2="289.7" y2="845.56" stroke="#000" stroke-width="1.7"/>
<text x="274.2" y="852" font-family="'DejaVu Sans','Liberation Sans',sans-serif" font-size="14.85" text-anchor="end" fill="#262626">CPD-based method</text>
<path d="M566,870.34 L566,868.34 L567,868.34 L568,868.34 L569,868.34 L570,868.34 L571,868.34 L572,868.34 L573,868.34 L574,868.34 L575,868.34 L576,868.34 L577,868.34 L578,868.34 L579,868.34 L580,868.34 L581,868.34 L582,868.34 L583,868.34 L584,868.34 L585,868.34 L586,868.34 L587,868.31 L588,868.24 L589,868.13 L590,867.99 L591,867.83 L592,867.66 L593,867.5 L594,867.34 L595,867.19 L596,867.02 L597,866.85 L598,866.66 L599,866.48 L600,866.28 L601,866.09 L602,865.9 L603,865.72 L604,865.54 L605,865.37 L606,865.19 L607,865.02 L608,864.85 L609,864.68 L610,864.51 L611,864.34 L612,864.17 L613,864.01 L614,863.84 L615,863.66 L616,863.47 L617,863.28 L618,863.09 L619,862.91 L620,862.75 L621,862.62 L622,862.54 L623,862.49 L624,862.46 L625,862.43 L626,862.39 L627,862.34 L628,862.21 L629,862.01 L630,861.8 L631,861.66 L632,861.68 L633,861.94 L634,862.37 L635,862.87 L636,863.34 L637,863.82 L638,864.37 L639,864.92 L640,865.43 L641,865.84 L642,866.16 L643,866.45 L644,866.72 L645,866.95 L646,867.16 L647,867.34 L648,867.5 L649,867.65 L650,867.78 L651,867.9 L652,868.02 L653,868.13 L654,868.23 L655,868.34 L656,868.45 L657,868.55 L658,868.65 L659,868.75 L660,868.84 L661,868.93 L662,869.02 L663,869.1 L663.5,869.14 L663.5,870.34 Z" fill="#4ECDC4" fill-opacity="0.34" stroke="none"/>
<line x1="566" y1="870.34" x2="566" y2="861.64" stroke="#4ECDC4" stroke-opacity="0.45" stroke-width="1.0"/>
<path d="M566.9,876.24H614.5M635.7,876.24H643.5M566.9,873.74V878.74M643.5,873.74V878.74" stroke="#1c1c1c" stroke-width="1.4" fill="none"/>
<rect x="614.5" y="872.04" width="21.2" height="8.4" fill="#4ECDC4" stroke="#1c1c1c" stroke-width="1.4" stroke-linejoin="round"/>
<line x1="626.5" y1="872.04" x2="626.5" y2="880.44" stroke="#1c1c1c" stroke-width="1.4"/>
<line x1="282.1" y1="875.44" x2="289.7" y2="875.44" stroke="#000" stroke-width="1.7"/>
<text x="274.2" y="881.88" font-family="'DejaVu Sans','Liberation Sans',sans-serif" font-size="14.85" text-anchor="end" fill="#262626">Isobe method</text>
<path d="M562,900.22 L562,898.22 L563,898.22 L564,898.22 L565,898.22 L566,898.22 L567,898.22 L568,898.22 L569,898.22 L570,898.22 L571,898.22 L572,898.22 L573,898.22 L574,898.22 L575,898.17 L576,898.03 L577,897.82 L578,897.56 L579,897.29 L580,897.02 L581,896.71 L582,896.34 L583,895.93 L584,895.5 L585,895.09 L586,894.72 L587,894.37 L588,894 L589,893.65 L590,893.33 L591,893.08 L592,892.92 L593,892.82 L594,892.74 L595,892.66 L596,892.6 L597,892.54 L598,892.5 L599,892.46 L600,892.42 L601,892.39 L602,892.36 L603,892.33 L604,892.31 L605,892.29 L606,892.27 L607,892.25 L608,892.22 L609,892.19 L610,892.15 L611,892.12 L612,892.08 L613,892.05 L614,892.03 L615,892.02 L616,892.4 L617,893.27 L618,894.22 L619,895.29 L620,896.46 L621,897.22 L622,897.59 L623,897.91 L624,898.19 L625,898.41 L626,898.58 L627,898.68 L628,898.72 L628,900.22 Z" fill="#4ECDC4" fill-opacity="0.34" stroke="none"/>
<line x1="562" y1="900.22" x2="562" y2="892.02" stroke="#4ECDC4" stroke-opacity="0.45" stroke-width="1.0"/>
<path d="M562.9,906.12H591M610.6,906.12H618.4M562.9,903.62V908.62M618.4,903.62V908.62" stroke="#1c1c1c" stroke-width="1.4" fill="none"/>
<rect x="591" y="901.92" width="19.6" height="8.4" fill="#4ECDC4" stroke="#1c1c1c" stroke-width="1.4" stroke-linejoin="round"/>
<line x1="600.5" y1="901.92" x2="600.5" y2="910.32" stroke="#1c1c1c" stroke-width="1.4"/>
<line x1="282.1" y1="905.32" x2="289.7" y2="905.32" stroke="#000" stroke-width="1.7"/>
<text x="274.2" y="911.76" font-family="'DejaVu Sans','Liberation Sans',sans-serif" font-size="14.85" text-anchor="end" fill="#262626">Simon method</text>
<path d="M519.5,930.1 L519.5,928.1 L520.5,928.1 L521.5,928.1 L522.5,928.1 L523.5,928.1 L524.5,928.1 L525.5,928.1 L526.5,928.1 L527.5,928.1 L528.5,928.1 L529.5,928.1 L530.5,928.1 L531.5,928.1 L532.5,928.1 L533.5,928.1 L534.5,928.1 L535.5,928.1 L536.5,928.1 L537.5,928.1 L538.5,928.1 L539.5,928.1 L540.5,928.1 L541.5,928.1 L542.5,928.1 L543.5,928.1 L544.5,928.1 L545.5,928.1 L546.5,928.1 L547.5,928.1 L548.5,928.1 L549.5,928.1 L550.5,928.1 L551.5,928.1 L552.5,928.1 L553.5,928.1 L554.5,928.1 L555.5,928.1 L556.5,928.1 L557.5,928.1 L558.5,928.1 L559.5,928.1 L560.5,928.1 L561.5,928.06 L562.5,927.99 L563.5,927.9 L564.5,927.78 L565.5,927.65 L566.5,927.52 L567.5,927.37 L568.5,927.22 L569.5,927.05 L570.5,926.85 L571.5,926.62 L572.5,926.36 L573.5,926.07 L574.5,925.76 L575.5,925.41 L576.5,924.95 L577.5,924.42 L578.5,923.86 L579.5,923.33 L580.5,922.86 L581.5,922.34 L582.5,921.82 L583.5,921.39 L584.5,921.14 L585.5,921.14 L586.5,921.44 L587.5,921.9 L588.5,922.39 L589.5,922.79 L590.5,923.17 L591.5,923.54 L592.5,923.94 L593.5,924.37 L594.5,924.87 L595.5,925.53 L596.5,926.2 L597.5,926.74 L598.5,927.01 L599.5,927.22 L600.5,927.39 L601.5,927.52 L602.5,927.59 L603.5,927.59 L604.5,927.55 L605.5,927.49 L606.5,927.41 L607.5,927.35 L608.5,927.31 L609.5,927.31 L610.5,927.38 L611.5,927.51 L612.5,927.7 L613.5,927.93 L614.5,928.21 L615.5,928.52 L616.5,928.86 L616.6,928.9 L616.6,930.1 Z" fill="#4ECDC4" fill-opacity="0.34" stroke="none"/>
<line x1="519.5" y1="930.1" x2="519.5" y2="921.1" stroke="#4ECDC4" stroke-opacity="0.45" stroke-width="1.0"/>
<path d="M520.4,936H580.2M593.6,936H599.8M520.4,933.5V938.5M599.8,933.5V938.5" stroke="#1c1c1c" stroke-width="1.4" fill="none"/>
<rect x="580.2" y="931.8" width="13.4" height="8.4" fill="#4ECDC4" stroke="#1c1c1c" stroke-width="1.4" stroke-linejoin="round"/>
<line x1="586.5" y1="931.8" x2="586.5" y2="940.2" stroke="#1c1c1c" stroke-width="1.4"/>
<line x1="282.1" y1="935.2" x2="289.7" y2="935.2" stroke="#000" stroke-width="1.7"/>
<text x="274.2" y="941.64" font-family="'DejaVu Sans','Liberation Sans',sans-serif" font-size="14.85" text-anchor="end" fill="#262626">Barchiesi method</text>
<path d="M546.4,959.98 L546.4,957.98 L547.4,957.98 L548.4,957.98 L549.4,957.98 L550.4,957.98 L551.4,957.98 L552.4,957.98 L553.4,957.98 L554.4,957.98 L555.4,957.98 L556.4,957.98 L557.4,957.98 L558.4,957.98 L559.4,957.98 L560.4,957.98 L561.4,957.98 L562.4,957.98 L563.4,957.98 L564.4,957.98 L565.4,957.98 L566.4,957.98 L567.4,957.98 L568.4,957.97 L569.4,957.92 L570.4,957.8 L571.4,957.64 L572.4,957.43 L573.4,957.2 L574.4,956.94 L575.4,956.65 L576.4,956.22 L577.4,955.64 L578.4,955 L579.4,954.35 L580.4,953.72 L581.4,952.93 L582.4,952.13 L583.4,951.59 L584.4,951.52 L585.4,951.9 L586.4,952.51 L587.4,953.16 L588.4,953.68 L589.4,954.24 L590.4,954.79 L591.4,955.21 L592.4,955.38 L593.4,955.25 L594.4,954.94 L595.4,954.54 L596.4,954.16 L597.4,953.87 L598.4,953.59 L599.4,953.3 L600.4,953.04 L601.4,952.83 L602.4,952.7 L603.4,952.68 L604.4,952.7 L605.4,952.73 L606.4,952.77 L607.4,952.84 L608.4,952.91 L609.4,953.01 L610.4,953.11 L611.4,953.25 L612.4,953.6 L613.4,954.11 L614.4,954.67 L615.4,955.19 L616.4,955.76 L617.4,956.35 L618.4,956.9 L619.4,957.35 L620.4,957.75 L621.4,958.12 L622.4,958.45 L623.4,958.73 L623.6,958.78 L623.6,959.98 Z" fill="#4ECDC4" fill-opacity="0.34" stroke="none"/>
<line x1="546.4" y1="959.98" x2="546.4" y2="951.48" stroke="#4ECDC4" stroke-opacity="0.45" stroke-width="1.0"/>
<path d="M547.6,965.88H584.2M605.7,965.88H613.5M547.6,963.38V968.38M613.5,963.38V968.38" stroke="#1c1c1c" stroke-width="1.4" fill="none"/>
<rect x="584.2" y="961.68" width="21.5" height="8.4" fill="#4ECDC4" stroke="#1c1c1c" stroke-width="1.4" stroke-linejoin="round"/>
<line x1="595.8" y1="961.68" x2="595.8" y2="970.08" stroke="#1c1c1c" stroke-width="1.4"/>
<line x1="282.1" y1="965.08" x2="289.7" y2="965.08" stroke="#000" stroke-width="1.7"/>
<text x="274.2" y="971.52" font-family="'DejaVu Sans','Liberation Sans',sans-serif" font-size="14.85" text-anchor="end" fill="#262626">Chen method</text>
<path d="M570.7,989.86 L570.7,987.86 L571.7,987.86 L572.7,987.86 L573.7,987.86 L574.7,987.86 L575.7,987.86 L576.7,987.86 L577.7,987.86 L578.7,987.86 L579.7,987.86 L580.7,987.86 L581.7,987.86 L582.7,987.86 L583.7,987.86 L584.7,987.86 L585.7,987.86 L586.7,987.86 L587.7,987.86 L588.7,987.86 L589.7,987.86 L590.7,987.86 L591.7,987.86 L592.7,987.86 L593.7,987.86 L594.7,987.86 L595.7,987.86 L596.7,987.86 L597.7,987.86 L598.7,987.86 L599.7,987.86 L600.7,987.86 L601.7,987.86 L602.7,987.86 L603.7,987.86 L604.7,987.86 L605.7,987.86 L606.7,987.85 L607.7,987.81 L608.7,987.75 L609.7,987.65 L610.7,987.54 L611.7,987.41 L612.7,987.26 L613.7,987.11 L614.7,986.92 L615.7,986.64 L616.7,986.28 L617.7,985.87 L618.7,985.43 L619.7,984.99 L620.7,984.54 L621.7,984.01 L622.7,983.45 L623.7,982.92 L624.7,982.47 L625.7,982.1 L626.7,981.74 L627.7,981.43 L628.7,981.27 L629.7,981.35 L630.7,981.72 L631.7,982.23 L632.7,982.73 L633.7,983.15 L634.7,983.58 L635.7,983.99 L636.7,984.3 L637.7,984.47 L638.7,984.58 L639.7,984.68 L640.7,984.81 L641.7,985.03 L642.7,985.39 L643.7,985.82 L644.7,986.24 L645.7,986.63 L646.7,987.04 L647.7,987.44 L648.7,987.78 L649.7,988.04 L650.7,988.27 L651.7,988.47 L652.7,988.62 L653,988.66 L653,989.86 Z" fill="#FAC858" fill-opacity="0.34" stroke="none"/>
<line x1="570.7" y1="989.86" x2="570.7" y2="981.26" stroke="#FAC858" stroke-opacity="0.45" stroke-width="1.0"/>
<path d="M571.9,995.76H625M638.9,995.76H646.7M571.9,993.26V998.26M646.7,993.26V998.26" stroke="#1c1c1c" stroke-width="1.4" fill="none"/>
<rect x="625" y="991.56" width="13.9" height="8.4" fill="#FAC858" stroke="#1c1c1c" stroke-width="1.4" stroke-linejoin="round"/>
<line x1="630.9" y1="991.56" x2="630.9" y2="999.96" stroke="#1c1c1c" stroke-width="1.4"/>
<line x1="282.1" y1="994.96" x2="289.7" y2="994.96" stroke="#000" stroke-width="1.7"/>
<text x="274.2" y="1001.4" font-family="'DejaVu Sans','Liberation Sans',sans-serif" font-size="14.85" text-anchor="end" fill="#262626">Zhao method</text>
<path d="M302,1019.74 L302,1017.94 L303,1017.94 L304,1017.94 L305,1017.94 L306,1017.94 L307,1017.94 L308,1017.94 L309,1017.94 L310,1017.94 L311,1017.94 L312,1017.94 L313,1017.94 L314,1017.94 L315,1017.94 L316,1017.94 L317,1017.94 L318,1017.94 L319,1017.94 L320,1017.94 L321,1017.94 L322,1017.94 L323,1017.94 L324,1017.94 L325,1017.94 L326,1017.94 L327,1017.94 L328,1017.94 L329,1017.94 L330,1017.94 L331,1017.94 L332,1017.94 L333,1017.94 L334,1017.94 L335,1017.94 L336,1017.94 L337,1017.94 L338,1017.94 L339,1017.94 L340,1017.94 L341,1017.94 L342,1017.94 L343,1017.94 L344,1017.94 L345,1017.94 L346,1017.94 L347,1017.94 L348,1017.94 L349,1017.94 L350,1017.94 L351,1017.94 L352,1017.94 L353,1017.94 L354,1017.94 L355,1017.94 L356,1017.94 L357,1017.94 L358,1017.94 L359,1017.94 L360,1017.94 L361,1017.94 L362,1017.94 L363,1017.94 L364,1017.94 L365,1017.94 L366,1017.94 L367,1017.94 L368,1017.94 L369,1017.94 L370,1017.94 L371,1017.94 L372,1017.94 L373,1017.94 L374,1017.94 L375,1017.94 L376,1017.94 L377,1017.94 L378,1017.94 L379,1017.94 L380,1017.94 L381,1017.94 L382,1017.94 L383,1017.94 L384,1017.94 L385,1017.94 L386,1017.94 L387,1017.94 L388,1017.94 L389,1017.94 L390,1017.94 L391,1017.94 L392,1017.94 L393,1017.94 L394,1017.94 L395,1017.94 L396,1017.94 L397,1017.94 L398,1017.94 L399,1017.94 L400,1017.94 L401,1017.94 L402,1017.94 L403,1017.94 L404,1017.94 L405,1017.94 L406,1017.94 L407,1017.94 L408,1017.94 L409,1017.94 L410,1017.94 L411,1017.94 L412,1017.94 L413,1017.94 L414,1017.94 L415,1017.94 L416,1017.94 L417,1017.94 L418,1017.94 L419,1017.94 L420,1017.94 L421,1017.94 L422,1017.94 L423,1017.94 L424,1017.94 L425,1017.94 L426,1017.94 L427,1017.94 L428,1017.94 L429,1017.94 L430,1017.94 L431,1017.94 L432,1017.94 L433,1017.94 L434,1017.94 L435,1017.94 L436,1017.94 L437,1017.94 L438,1017.94 L439,1017.94 L440,1017.94 L441,1017.94 L442,1017.94 L443,1017.94 L444,1017.94 L445,1017.94 L446,1017.94 L447,1017.94 L448,1017.94 L449,1017.94 L450,1017.94 L451,1017.94 L452,1017.94 L453,1017.94 L454,1017.94 L455,1017.94 L456,1017.94 L457,1017.94 L458,1017.94 L459,1017.94 L460,1017.94 L461,1017.94 L462,1017.94 L463,1017.94 L464,1017.94 L465,1017.94 L466,1017.94 L467,1017.94 L468,1017.94 L469,1017.94 L470,1017.94 L471,1017.94 L472,1017.94 L473,1017.94 L474,1017.94 L475,1017.94 L476,1017.94 L477,1017.94 L478,1017.94 L479,1017.94 L480,1017.94 L481,1017.94 L482,1017.94 L483,1017.94 L484,1017.94 L485,1017.94 L486,1017.94 L487,1017.94 L488,1017.94 L489,1017.94 L490,1017.94 L491,1017.94 L492,1017.94 L493,1017.94 L494,1017.94 L495,1017.94 L496,1017.94 L497,1017.94 L498,1017.94 L499,1017.94 L500,1017.94 L501,1017.94 L502,1017.94 L503,1017.94 L504,1017.94 L505,1017.94 L506,1017.94 L507,1017.94 L508,1017.94 L509,1017.94 L510,1017.94 L511,1017.94 L512,1017.94 L513,1017.94 L514,1017.94 L515,1017.94 L516,1017.94 L517,1017.94 L518,1017.94 L519,1017.94 L520,1017.94 L521,1017.94 L522,1017.94 L523,1017.94 L524,1017.94 L525,1017.94 L526,1017.94 L527,1017.94 L528,1017.94 L529,1017.94 L530,1017.94 L531,1017.94 L532,1017.94 L533,1017.94 L534,1017.94 L535,1017.94 L536,1017.94 L537,1017.94 L538,1017.94 L539,1017.94 L540,1017.94 L541,1017.94 L542,1017.94 L543,1017.94 L544,1017.94 L545,1017.94 L546,1017.94 L547,1017.94 L548,1017.94 L549,1017.94 L550,1017.94 L551,1017.94 L552,1017.94 L553,1017.94 L554,1017.94 L555,1017.94 L556,1017.94 L557,1017.94 L558,1017.94 L559,1017.94 L560,1017.94 L561,1017.94 L562,1017.94 L563,1017.94 L564,1017.94 L565,1017.94 L566,1017.94 L567,1017.94 L568,1017.94 L569,1017.94 L570,1017.94 L571,1017.94 L572,1017.94 L573,1017.94 L574,1017.94 L575,1017.94 L576,1017.94 L577,1017.94 L578,1017.94 L579,1017.94 L580,1017.94 L581,1017.94 L582,1017.94 L583,1017.94 L584,1017.94 L585,1017.94 L586,1017.94 L587,1017.94 L588,1017.94 L589,1017.94 L590,1017.94 L591,1017.94 L592,1017.94 L593,1017.94 L594,1017.94 L595,1017.94 L596,1017.94 L597,1017.94 L598,1017.94 L599,1017.94 L600,1017.94 L601,1017.94 L602,1017.94 L603,1017.93 L604,1017.93 L605,1017.92 L606,1017.91 L607,1017.9 L608,1017.89 L609,1017.88 L610,1017.86 L611,1017.85 L612,1017.83 L613,1017.81 L614,1017.79 L615,1017.76 L616,1017.74 L617,1017.71 L618,1017.68 L619,1017.65 L620,1017.61 L621,1017.58 L622,1017.54 L623,1017.47 L624,1017.33 L625,1017.13 L626,1016.9 L627,1016.63 L628,1016.34 L629,1016.04 L630,1015.74 L631,1015.41 L632,1015.01 L633,1014.57 L634,1014.11 L635,1013.63 L636,1013.17 L637,1012.74 L638,1012.31 L639,1011.86 L640,1011.43 L641,1011.05 L642,1010.74 L643,1010.47 L644,1010.24 L645,1010.14 L646,1010.29 L647,1010.68 L648,1011.2 L649,1011.74 L650,1012.39 L651,1013.2 L652,1014.03 L653,1014.74 L654,1015.34 L655,1015.91 L656,1016.39 L657,1016.74 L658,1016.98 L659,1017.17 L660,1017.33 L661,1017.48 L662,1017.61 L663,1017.74 L664,1017.87 L665,1017.99 L666,1018.11 L667,1018.22 L668,1018.33 L669,1018.42 L670,1018.51 L670.4,1018.54 L670.4,1019.74 Z" fill="#FAC858" fill-opacity="0.34" stroke="none"/>
<line x1="302" y1="1019.74" x2="302" y2="1010.14" stroke="#FAC858" stroke-opacity="0.45" stroke-width="1.0"/>
<path d="M302.7,1025.64H633.7M648.4,1025.64H655.2M302.7,1023.14V1028.14M655.2,1023.14V1028.14" stroke="#1c1c1c" stroke-width="1.4" fill="none"/>
<rect x="633.7" y="1021.44" width="14.7" height="8.4" fill="#FAC858" stroke="#1c1c1c" stroke-width="1.4" stroke-linejoin="round"/>
<line x1="643.5" y1="1021.44" x2="643.5" y2="1029.84" stroke="#1c1c1c" stroke-width="1.4"/>
<line x1="282.1" y1="1024.84" x2="289.7" y2="1024.84" stroke="#000" stroke-width="1.7"/>
<text x="274.2" y="1031.28" font-family="'DejaVu Sans','Liberation Sans',sans-serif" font-size="14.85" text-anchor="end" fill="#262626">Weiss method</text>
<path d="M584.6,1049.62 L584.6,1047.62 L585.6,1047.62 L586.6,1047.62 L587.6,1047.62 L588.6,1047.62 L589.6,1047.62 L590.6,1047.62 L591.6,1047.62 L592.6,1047.62 L593.6,1047.62 L594.6,1047.62 L595.6,1047.62 L596.6,1047.62 L597.6,1047.62 L598.6,1047.62 L599.6,1047.62 L600.6,1047.62 L601.6,1047.62 L602.6,1047.62 L603.6,1047.62 L604.6,1047.62 L605.6,1047.62 L606.6,1047.62 L607.6,1047.62 L608.6,1047.62 L609.6,1047.62 L610.6,1047.62 L611.6,1047.62 L612.6,1047.62 L613.6,1047.62 L614.6,1047.62 L615.6,1047.62 L616.6,1047.62 L617.6,1047.62 L618.6,1047.62 L619.6,1047.62 L620.6,1047.62 L621.6,1047.62 L622.6,1047.62 L623.6,1047.62 L624.6,1047.62 L625.6,1047.61 L626.6,1047.55 L627.6,1047.45 L628.6,1047.3 L629.6,1047.13 L630.6,1046.93 L631.6,1046.71 L632.6,1046.45 L633.6,1046.04 L634.6,1045.52 L635.6,1044.94 L636.6,1044.35 L637.6,1043.75 L638.6,1043.05 L639.6,1042.35 L640.6,1041.78 L641.6,1041.42 L642.6,1041.13 L643.6,1041.02 L644.6,1041.29 L645.6,1041.83 L646.6,1042.42 L647.6,1042.91 L648.6,1043.47 L649.6,1043.98 L650.6,1044.29 L651.6,1044.31 L652.6,1044.24 L653.6,1044.15 L654.6,1044.06 L655.6,1044.02 L656.6,1044.23 L657.6,1044.79 L658.6,1045.41 L659.6,1045.9 L660.6,1046.38 L661.6,1046.83 L662.6,1047.2 L663.6,1047.48 L664.6,1047.74 L665.6,1047.97 L666.6,1048.17 L667.6,1048.32 L668.6,1048.41 L668.7,1048.42 L668.7,1049.62 Z" fill="#FAC858" fill-opacity="0.34" stroke="none"/>
<line x1="584.6" y1="1049.62" x2="584.6" y2="1041.02" stroke="#FAC858" stroke-opacity="0.45" stroke-width="1.0"/>
<path d="M584.1,1055.52H641.5M654.1,1055.52H662.1M584.1,1053.02V1058.02M662.1,1053.02V1058.02" stroke="#1c1c1c" stroke-width="1.4" fill="none"/>
<rect x="641.5" y="1051.32" width="12.6" height="8.4" fill="#FAC858" stroke="#1c1c1c" stroke-width="1.4" stroke-linejoin="round"/>
<line x1="646.6" y1="1051.32" x2="646.6" y2="1059.72" stroke="#1c1c1c" stroke-width="1.4"/>
<line x1="282.1" y1="1054.72" x2="289.7" y2="1054.72" stroke="#000" stroke-width="1.7"/>
<text x="274.2" y="1061.16" font-family="'DejaVu Sans','Liberation Sans',sans-serif" font-size="14.85" text-anchor="end" fill="#262626">Mai method</text>
<path d="M604,1079.5 L604,1077.5 L605,1077.5 L606,1077.5 L607,1077.5 L608,1077.5 L609,1077.5 L610,1077.5 L611,1077.5 L612,1077.5 L613,1077.5 L614,1077.5 L615,1077.5 L616,1077.5 L617,1077.5 L618,1077.5 L619,1077.5 L620,1077.5 L621,1077.5 L622,1077.5 L623,1077.5 L624,1077.5 L625,1077.5 L626,1077.5 L627,1077.5 L628,1077.5 L629,1077.5 L630,1077.5 L631,1077.5 L632,1077.5 L633,1077.5 L634,1077.5 L635,1077.5 L636,1077.5 L637,1077.5 L638,1077.5 L639,1077.5 L640,1077.5 L641,1077.5 L642,1077.5 L643,1077.5 L644,1077.5 L645,1077.5 L646,1077.5 L647,1077.5 L648,1077.5 L649,1077.5 L650,1077.5 L651,1077.49 L652,1077.45 L653,1077.39 L654,1077.31 L655,1077.21 L656,1077.1 L657,1076.97 L658,1076.82 L659,1076.67 L660,1076.5 L661,1076.26 L662,1075.91 L663,1075.48 L664,1075 L665,1074.5 L666,1073.93 L667,1073.26 L668,1072.58 L669,1072 L670,1071.45 L671,1070.9 L672,1070.47 L673,1070.3 L674,1070.55 L675,1071.15 L676,1071.87 L677,1072.5 L678,1073.09 L679,1073.65 L680,1073.9 L681,1073.85 L682,1073.73 L683,1073.6 L684,1073.51 L685,1073.57 L686,1073.94 L687,1074.47 L688,1075 L689,1075.54 L690,1076.15 L691,1076.73 L692,1077.2 L693,1077.56 L694,1077.88 L695,1078.14 L695.8,1078.3 L695.8,1079.5 Z" fill="#FAC858" fill-opacity="0.34" stroke="none"/>
<line x1="604" y1="1079.5" x2="604" y2="1070.3" stroke="#FAC858" stroke-opacity="0.45" stroke-width="1.0"/>
<path d="M603.8,1085.4H668.7M681.2,1085.4H689.2M603.8,1082.9V1087.9M689.2,1082.9V1087.9" stroke="#1c1c1c" stroke-width="1.4" fill="none"/>
<rect x="668.7" y="1081.2" width="12.5" height="8.4" fill="#FAC858" stroke="#1c1c1c" stroke-width="1.4" stroke-linejoin="round"/>
<line x1="674.6" y1="1081.2" x2="674.6" y2="1089.6" stroke="#1c1c1c" stroke-width="1.4"/>
<line x1="282.1" y1="1084.6" x2="289.7" y2="1084.6" stroke="#000" stroke-width="1.7"/>
<text x="274.2" y="1091.04" font-family="'DejaVu Sans','Liberation Sans',sans-serif" font-size="14.85" text-anchor="end" fill="#262626">Lebreton method</text>
<line x1="289.9" y1="1100.2" x2="289.9" y2="1107.7" stroke="#000" stroke-width="1.7"/>
<text x="290.2" y="1126.4" font-family="'DejaVu Sans','Liberation Sans',sans-serif" font-size="14.6" text-anchor="middle" fill="#262626">10<tspan dy="-5.2" font-size="10.22">−14</tspan></text>
<line x1="333.54" y1="1100.2" x2="333.54" y2="1107.7" stroke="#000" stroke-width="1.7"/>
<text x="333.84" y="1126.4" font-family="'DejaVu Sans','Liberation Sans',sans-serif" font-size="14.6" text-anchor="middle" fill="#262626">10<tspan dy="-5.2" font-size="10.22">−12</tspan></text>
<line x1="377.18" y1="1100.2" x2="377.18" y2="1107.7" stroke="#000" stroke-width="1.7"/>
<text x="377.48" y="1126.4" font-family="'DejaVu Sans','Liberation Sans',sans-serif" font-size="14.6" text-anchor="middle" fill="#262626">10<tspan dy="-5.2" font-size="10.22">−10</tspan></text>
<line x1="420.82" y1="1100.2" x2="420.82" y2="1107.7" stroke="#000" stroke-width="1.7"/>
<text x="421.12" y="1126.4" font-family="'DejaVu Sans','Liberation Sans',sans-serif" font-size="14.6" text-anchor="middle" fill="#262626">10<tspan dy="-5.2" font-size="10.22">−8</tspan></text>
<line x1="464.46" y1="1100.2" x2="464.46" y2="1107.7" stroke="#000" stroke-width="1.7"/>
<text x="464.76" y="1126.4" font-family="'DejaVu Sans','Liberation Sans',sans-serif" font-size="14.6" text-anchor="middle" fill="#262626">10<tspan dy="-5.2" font-size="10.22">−6</tspan></text>
<line x1="508.1" y1="1100.2" x2="508.1" y2="1107.7" stroke="#000" stroke-width="1.7"/>
<text x="508.4" y="1126.4" font-family="'DejaVu Sans','Liberation Sans',sans-serif" font-size="14.6" text-anchor="middle" fill="#262626">10<tspan dy="-5.2" font-size="10.22">−4</tspan></text>
<line x1="551.74" y1="1100.2" x2="551.74" y2="1107.7" stroke="#000" stroke-width="1.7"/>
<text x="552.04" y="1126.4" font-family="'DejaVu Sans','Liberation Sans',sans-serif" font-size="14.6" text-anchor="middle" fill="#262626">10<tspan dy="-5.2" font-size="10.22">−2</tspan></text>
<line x1="595.38" y1="1100.2" x2="595.38" y2="1107.7" stroke="#000" stroke-width="1.7"/>
<text x="595.68" y="1126.4" font-family="'DejaVu Sans','Liberation Sans',sans-serif" font-size="14.6" text-anchor="middle" fill="#262626">10<tspan dy="-5.2" font-size="10.22">0</tspan></text>
<line x1="639.02" y1="1100.2" x2="639.02" y2="1107.7" stroke="#000" stroke-width="1.7"/>
<text x="639.32" y="1126.4" font-family="'DejaVu Sans','Liberation Sans',sans-serif" font-size="14.6" text-anchor="middle" fill="#262626">10<tspan dy="-5.2" font-size="10.22">2</tspan></text>
<line x1="682.66" y1="1100.2" x2="682.66" y2="1107.7" stroke="#000" stroke-width="1.7"/>
<text x="682.96" y="1126.4" font-family="'DejaVu Sans','Liberation Sans',sans-serif" font-size="14.6" text-anchor="middle" fill="#262626">10<tspan dy="-5.2" font-size="10.22">4</tspan></text>
<rect x="289.7" y="771.8" width="414.6" height="328.4" fill="none" stroke="#000" stroke-width="1.7"/>
<text x="496.5" y="1151.3" font-family="'DejaVu Sans','Liberation Sans',sans-serif" font-size="16.06" text-anchor="middle" fill="#262626">Relative Error (log scale)</text>
<text transform="translate(121,936.6) rotate(-90)" font-family="'DejaVu Sans','Liberation Sans',sans-serif" font-size="16.06" text-anchor="middle" fill="#262626">Estimation Method</text>
<rect x="301.6" y="785.2" width="23.3" height="6.6" fill="#FF6B6B"/>
<text x="334.6" y="792.8" font-family="'DejaVu Sans','Liberation Sans',sans-serif" font-size="12.15" text-anchor="start" fill="#262626">Method in this study</text>
<rect x="301.6" y="804.1" width="23.3" height="6.6" fill="#4ECDC4"/>
<text x="334.6" y="811.7" font-family="'DejaVu Sans','Liberation Sans',sans-serif" font-size="12.15" text-anchor="start" fill="#262626">Volume-density method</text>
<rect x="301.6" y="823" width="23.3" height="6.6" fill="#FAC858"/>
<text x="334.6" y="830.6" font-family="'DejaVu Sans','Liberation Sans',sans-serif" font-size="12.15" text-anchor="start" fill="#262626">Coefficient conversion method</text>
<text x="259.6" y="586" font-family="'Liberation Serif','DejaVu Serif',serif" font-size="16.8" font-style="italic" fill="#000" stroke="#000" stroke-width="0.25">M</text>
<text x="279.5" y="588.7" font-family="'Liberation Serif','DejaVu Serif',serif" font-size="23.5" fill="#000" stroke="#000" stroke-width="0.25">=</text>
<text x="299.4" y="586" font-family="'Liberation Serif','DejaVu Serif',serif" font-size="17.5" font-style="italic" fill="#000" stroke="#000" stroke-width="0.25">π</text>
<text x="314.8" y="588.7" font-family="'Liberation Serif','DejaVu Serif',serif" font-size="23.5" fill="#000" stroke="#000" stroke-width="0.25">×</text>
<text x="332.3" y="586" font-family="'Liberation Serif','DejaVu Serif',serif" font-size="16.8" font-style="italic" fill="#000" stroke="#000" stroke-width="0.25">R</text>
<text x="343.6" y="579.4" font-family="'Liberation Serif','DejaVu Serif',serif" font-size="11.8" fill="#000" stroke="#000" stroke-width="0.25">2</text>
<text x="351.5" y="588.7" font-family="'Liberation Serif','DejaVu Serif',serif" font-size="23.5" fill="#000" stroke="#000" stroke-width="0.25">×</text>
<text x="370.6" y="586" font-family="'Liberation Serif','DejaVu Serif',serif" font-size="16.8" font-style="italic" fill="#000" stroke="#000" stroke-width="0.25">L</text>
<text x="384.4" y="588.7" font-family="'Liberation Serif','DejaVu Serif',serif" font-size="23.5" fill="#000" stroke="#000" stroke-width="0.25">×</text>
<text x="401.6" y="586" font-family="'Liberation Serif','DejaVu Serif',serif" font-size="17.5" font-style="italic" fill="#000" stroke="#000" stroke-width="0.25">ρ</text>
<text x="416.4" y="588.7" font-family="'Liberation Serif','DejaVu Serif',serif" font-size="23.5" fill="#000" stroke="#000" stroke-width="0.25">×</text>
<text x="434.2" y="586" font-family="'Liberation Serif','DejaVu Serif',serif" font-size="16.8" letter-spacing="1.3" fill="#000" stroke="#000" stroke-width="0.25">0.6</text>
<text x="461.7" y="588.7" font-family="'Liberation Serif','DejaVu Serif',serif" font-size="23.5" fill="#000" stroke="#000" stroke-width="0.25">×</text>
<text x="479.4" y="586" font-family="'Liberation Serif','DejaVu Serif',serif" font-size="16.8" letter-spacing="1.15" fill="#000" stroke="#000" stroke-width="0.25">0.001</text>
<text x="259.6" y="647.1" font-family="'Liberation Serif','DejaVu Serif',serif" font-size="16.8" font-style="italic" fill="#000" stroke="#000" stroke-width="0.25">M</text>
<text x="279.5" y="649.8" font-family="'Liberation Serif','DejaVu Serif',serif" font-size="23.5" fill="#000" stroke="#000" stroke-width="0.25">=</text>
<text transform="translate(299.7,650.1) scale(1.12,1.74)" font-family="'Liberation Serif','DejaVu Serif',serif" font-size="20" fill="#000">(</text>
<text x="308.9" y="632.9" font-family="'Liberation Serif','DejaVu Serif',serif" font-size="17" font-style="italic" fill="#000" stroke="#000" stroke-width="0.25">π</text>
<line x1="308.0" y1="641.7" x2="320.0" y2="641.7" stroke="#000" stroke-width="1.25"/>
<text x="309.8" y="659.5" font-family="'Liberation Serif','DejaVu Serif',serif" font-size="17.5" fill="#000" stroke="#000" stroke-width="0.25">6</text>
<text transform="translate(320.0,650.1) scale(1.12,1.74)" font-family="'Liberation Serif','DejaVu Serif',serif" font-size="20" fill="#000">)</text>
<text x="332.5" y="649.8" font-family="'Liberation Serif','DejaVu Serif',serif" font-size="23.5" fill="#000" stroke="#000" stroke-width="0.25">×</text>
<text x="350.7" y="647.1" font-family="'Liberation Serif','DejaVu Serif',serif" font-size="16.8" font-style="italic" fill="#000" stroke="#000" stroke-width="0.25">L</text>
<text x="359.2" y="640.5" font-family="'Liberation Serif','DejaVu Serif',serif" font-size="11.8" fill="#000" stroke="#000" stroke-width="0.25">2</text>
<text x="371.1" y="649.8" font-family="'Liberation Serif','DejaVu Serif',serif" font-size="23.5" fill="#000" stroke="#000" stroke-width="0.25">×</text>
<text x="389.3" y="647.1" font-family="'Liberation Serif','DejaVu Serif',serif" font-size="16.8" letter-spacing="1.3" fill="#000" stroke="#000" stroke-width="0.25">0.02</text>
<text x="427" y="649.8" font-family="'Liberation Serif','DejaVu Serif',serif" font-size="23.5" fill="#000" stroke="#000" stroke-width="0.25">×</text>
<text x="444.6" y="647.1" font-family="'Liberation Serif','DejaVu Serif',serif" font-size="17.5" font-style="italic" fill="#000" stroke="#000" stroke-width="0.25">ρ</text>
<text x="458.4" y="649.8" font-family="'Liberation Serif','DejaVu Serif',serif" font-size="23.5" fill="#000" stroke="#000" stroke-width="0.25">×</text>
<text x="477.2" y="647.1" font-family="'Liberation Serif','DejaVu Serif',serif" font-size="16.8" letter-spacing="1.15" fill="#000" stroke="#000" stroke-width="0.25">0.001</text>
</svg>
<div class="c" style="left:79.5px;top:425.3px;font-weight:bold;font-size:18.4px;">Optimal Size-probability distribution-based volume-density method</div>
<div style="position:absolute;left:88px;top:454.9px;width:615.5px;height:32.6px;background:#149CD8;"></div>
<div style="position:absolute;left:88px;top:487px;width:613.5px;height:176.5px;border:1px solid #149CD8;border-top:none;"></div>
<div style="position:absolute;left:88px;top:540.5px;width:615.5px;height:1px;background:#149CD8;"></div>
<div style="position:absolute;left:88px;top:594px;width:615.5px;height:1px;background:#149CD8;"></div>
<div class="c" style="left:88px;width:162px;top:461.3px;text-align:center;font-weight:bold;color:#fff;">Sub-model</div>
<div class="c" style="left:250px;width:454px;top:461.3px;text-align:center;font-weight:bold;color:#fff;">Content</div>
<div class="c" style="left:98.5px;top:493.2px;">Size distribution<br>model</div>
<div class="c" style="left:259.7px;top:493.2px;">CFD (conditional fragmental distribution)-based<br>model</div>
<div class="c" style="left:98.5px;top:547.3px;">Fibre mass<br>estimation</div>
<div class="c" style="left:259.7px;top:547.3px;">Cylinder_Simon Method:</div>
<div class="c" style="left:98.5px;top:609.1px;">Fragment mass<br>estimation</div>
<div class="c" style="left:259.7px;top:600.3px;">Ellipsoid_Han Method:</div>
<div class="c" style="left:98.5px;top:673.2px;">Notes: M (g) is the mass of the MP particle. R (mm) represents radius of<br>the cross-section, while L (mm) denotes the longest length of fibres or<br>fragments.</div>
</div>
</body></html>
